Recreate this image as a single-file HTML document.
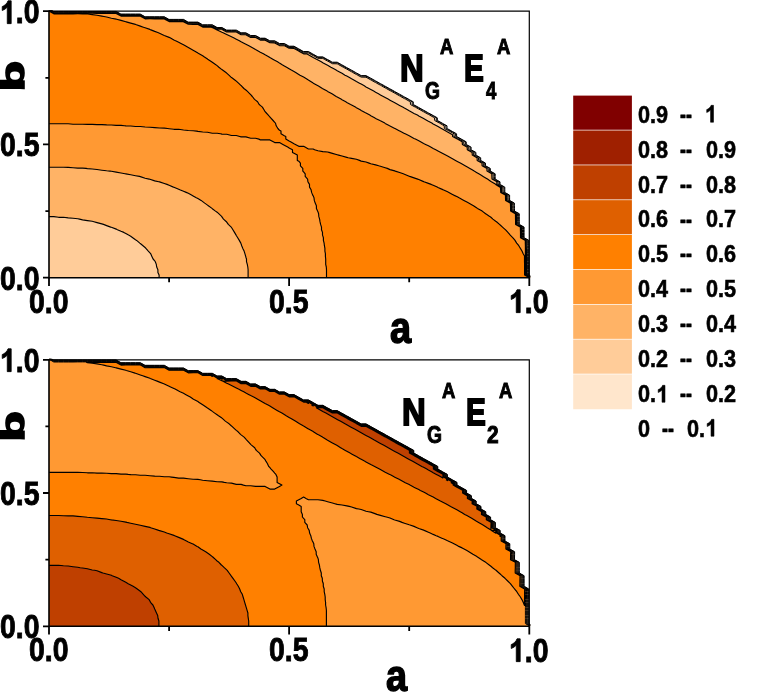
<!DOCTYPE html>
<html><head><meta charset="utf-8"><title>Contour plots</title>
<style>
html,body{margin:0;padding:0;background:#fff;}
body{width:761px;height:692px;overflow:hidden;position:relative;font-family:"Liberation Sans",sans-serif;}
#main{position:absolute;left:0;top:0;}
.t{position:absolute;font-family:"Liberation Sans",sans-serif;font-weight:bold;color:#000;white-space:pre;line-height:1;transform-origin:0 0;}
#tx{position:absolute;left:0;top:0;width:761px;height:692px;overflow:hidden;will-change:transform;}
.tk{font-size:33.2px;transform:scaleX(0.856);-webkit-text-stroke:0.9px #000;}
.a{font-size:44.95px;transform:scaleX(0.845);-webkit-text-stroke:1.5px #000;}
.N{font-size:36.8px;transform:scaleX(0.893);-webkit-text-stroke:1.8px #000;}
.E{font-size:36.8px;transform:scaleX(0.807);-webkit-text-stroke:1.8px #000;}
.sA{font-size:22.5px;transform:scaleX(0.82);-webkit-text-stroke:1.0px #000;}
.sG{font-size:23.5px;transform:scaleX(0.82);-webkit-text-stroke:1.0px #000;}
.s4{font-size:23.5px;transform:scaleX(0.79);-webkit-text-stroke:1.0px #000;}
.s2{font-size:23.5px;transform:scaleX(0.89);-webkit-text-stroke:1.0px #000;}
.lg{font-size:24.6px;transform:scaleX(0.88);-webkit-text-stroke:0.6px #000;}
.ld{font-size:25.0px;transform:scaleX(0.71);-webkit-text-stroke:0.7px #000;}

</style></head><body>
<svg id="main" width="761" height="692" viewBox="0 0 761 692">
<defs>
<clipPath id="c1"><rect x="49.0" y="10.2" width="481.3" height="267.5"/></clipPath>
<clipPath id="c2"><rect x="49.0" y="358.8" width="481.3" height="267.5"/></clipPath>
</defs>
<g clip-path="url(#c1)">
<path fill="#FFE6CC" fill-rule="evenodd" d="M49.0 277.7L53.8 277.7L58.6 277.7L63.4 277.7L68.2 277.7L73.0 277.7L77.8 277.7L82.6 277.7L87.4 277.7L92.2 277.7L97.0 277.7L101.8 277.7L106.6 277.7L111.4 277.7L116.2 277.7L121.0 277.7L125.8 277.7L130.7 277.7L135.5 277.7L140.3 277.7L145.1 277.7L149.9 277.7L154.7 277.7L159.5 277.7L164.3 277.7L169.1 277.7L173.9 277.7L178.7 277.7L183.5 277.7L188.3 277.7L193.1 277.7L197.9 277.7L202.7 277.7L207.5 277.7L212.3 277.7L217.1 277.7L221.9 277.7L226.7 277.7L231.5 277.7L236.3 277.7L241.1 277.7L245.9 277.7L250.7 277.7L255.5 277.7L260.3 277.7L265.1 277.7L269.9 277.7L274.7 277.7L279.5 277.7L284.3 277.7L289.1 277.7L294.0 277.7L298.8 277.7L303.6 277.7L308.4 277.7L313.2 277.7L318.0 277.7L322.8 277.7L327.6 277.7L332.4 277.7L337.2 277.7L342.0 277.7L346.8 277.7L351.6 277.7L356.4 277.7L361.2 277.7L366.0 277.7L370.8 277.7L375.6 277.7L380.4 277.7L385.2 277.7L390.0 277.7L394.8 277.7L399.6 277.7L404.4 277.7L409.2 277.7L414.0 277.7L418.8 277.7L423.6 277.7L428.4 277.7L433.2 277.7L438.0 277.7L442.8 277.7L447.6 277.7L452.5 277.7L457.3 277.7L462.1 277.7L466.9 277.7L471.7 277.7L476.5 277.7L481.3 277.7L486.1 277.7L490.9 277.7L495.7 277.7L500.5 277.7L505.3 277.7L510.1 277.7L514.9 277.7L519.7 277.7L524.5 277.7L529.3 277.7L533.1 277.7L529.3 275.6L528.4 275.0L528.4 272.4L528.4 269.7L528.4 267.0L528.4 264.4L528.3 261.7L528.3 259.0L528.3 256.4L528.3 253.7L528.3 251.0L528.3 248.4L528.3 245.7L528.3 243.1L528.3 240.4L524.5 238.3L523.5 237.7L523.5 235.1L523.5 232.4L523.5 229.7L523.5 227.1L519.7 225.0L518.7 224.4L518.7 221.7L518.6 219.1L518.6 216.4L518.6 213.7L514.9 211.7L513.8 211.1L513.8 208.4L513.8 205.7L513.8 203.1L510.1 201.0L509.0 200.4L509.0 197.8L508.9 195.1L505.3 193.1L504.1 192.4L504.1 189.8L504.1 187.1L500.5 185.1L499.3 184.4L499.3 181.8L495.7 179.8L494.5 179.1L494.4 176.4L494.4 173.8L490.9 171.8L489.6 171.1L489.6 168.4L486.1 166.5L484.8 165.8L484.7 163.1L481.3 161.2L479.9 160.4L479.9 157.8L476.5 155.9L475.1 155.1L475.0 152.4L471.7 150.6L470.2 149.8L470.2 147.1L466.9 145.3L465.4 144.4L465.3 141.8L462.1 140.0L460.5 139.1L457.3 137.3L455.7 136.5L455.6 133.8L452.5 132.0L450.8 131.1L447.6 129.4L446.0 128.5L445.9 125.8L442.8 124.1L441.2 123.1L438.0 121.4L436.3 120.5L436.3 117.8L433.2 116.1L431.5 115.1L428.4 113.5L426.7 112.5L423.6 110.8L421.9 109.8L418.8 108.1L417.0 107.1L414.0 105.5L412.2 104.5L412.2 101.8L409.2 100.2L407.4 99.1L404.4 97.5L402.5 96.5L399.6 94.9L397.7 93.8L394.8 92.2L392.9 91.1L390.0 89.5L388.1 88.5L385.2 86.9L383.3 85.8L380.4 84.2L378.5 83.2L375.6 81.5L373.7 80.5L370.8 78.9L368.9 77.8L366.0 76.2L361.2 76.1L359.4 75.2L356.4 73.5L354.6 72.5L351.6 70.8L349.8 69.8L346.8 68.2L345.0 67.2L342.0 65.5L340.2 64.5L337.2 62.8L332.4 62.8L330.7 61.8L327.6 60.1L325.9 59.2L322.8 57.4L318.0 57.4L316.3 56.5L313.2 54.7L311.5 53.8L308.4 52.1L303.6 52.0L302.0 51.2L298.8 49.4L297.2 48.5L294.0 46.7L289.1 46.7L287.6 45.8L284.3 44.0L279.5 44.0L278.1 43.2L274.7 41.3L269.9 41.3L268.5 40.5L265.1 38.6L260.3 38.6L259.0 37.8L255.5 35.9L250.7 35.9L249.4 35.2L245.9 33.3L241.1 33.2L239.8 32.5L236.3 30.6L231.5 30.6L226.7 30.5L225.5 29.9L221.9 27.9L217.1 27.9L215.9 27.2L212.3 25.2L207.5 25.2L202.7 25.2L201.5 24.5L197.9 22.5L193.1 22.5L188.3 22.5L187.2 21.9L183.5 19.8L178.7 19.8L173.9 19.8L169.1 19.8L168.0 19.2L164.3 17.1L159.5 17.1L154.7 17.1L149.9 17.1L145.1 17.1L144.0 16.5L140.3 14.4L135.5 14.4L130.7 14.4L125.8 14.4L121.0 14.4L120.0 13.9L116.2 11.8L111.4 11.7L106.6 11.7L101.8 11.7L97.0 11.7L92.2 11.7L87.4 11.7L82.6 11.7L77.8 11.7L73.0 11.7L68.2 11.7L63.4 11.7L58.6 11.7L53.8 11.7L52.8 11.2L49.0 9.1L49.0 11.2L49.0 13.9L49.0 16.5L49.0 19.2L49.0 21.9L49.0 24.5L49.0 27.2L49.0 29.9L49.0 32.5L49.0 35.2L49.0 37.8L49.0 40.5L49.0 43.2L49.0 45.8L49.0 48.5L49.0 51.2L49.0 53.8L49.0 56.5L49.0 59.2L49.0 61.8L49.0 64.5L49.0 67.2L49.0 69.8L49.0 72.5L49.0 75.2L49.0 77.8L49.0 80.5L49.0 83.2L49.0 85.8L49.0 88.5L49.0 91.1L49.0 93.8L49.0 96.5L49.0 99.1L49.0 101.8L49.0 104.5L49.0 107.1L49.0 109.8L49.0 112.5L49.0 115.1L49.0 117.8L49.0 120.5L49.0 123.1L49.0 125.8L49.0 128.5L49.0 131.1L49.0 133.8L49.0 136.5L49.0 139.1L49.0 141.8L49.0 144.4L49.0 147.1L49.0 149.8L49.0 152.4L49.0 155.1L49.0 157.8L49.0 160.4L49.0 163.1L49.0 165.8L49.0 168.4L49.0 171.1L49.0 173.8L49.0 176.4L49.0 179.1L49.0 181.8L49.0 184.4L49.0 187.1L49.0 189.8L49.0 192.4L49.0 195.1L49.0 197.8L49.0 200.4L49.0 203.1L49.0 205.7L49.0 208.4L49.0 211.1L49.0 213.7L49.0 216.4L49.0 219.1L49.0 221.7L49.0 224.4L49.0 227.1L49.0 229.7L49.0 232.4L49.0 235.1L49.0 237.7L49.0 240.4L49.0 243.1L49.0 245.7L49.0 248.4L49.0 251.0L49.0 253.7L49.0 256.4L49.0 259.0L49.0 261.7L49.0 264.4L49.0 267.0L49.0 269.7L49.0 272.4L49.0 275.0L49.0 277.7Z"/>
<path fill="#FFCC99" fill-rule="evenodd" d="M49.0 277.7L53.8 277.7L58.6 277.7L63.4 277.7L68.2 277.7L73.0 277.7L77.8 277.7L82.6 277.7L87.4 277.7L92.2 277.7L97.0 277.7L101.8 277.7L106.6 277.7L111.4 277.7L116.2 277.7L121.0 277.7L125.8 277.7L130.7 277.7L135.5 277.7L140.3 277.7L145.1 277.7L149.9 277.7L154.7 277.7L159.5 277.7L164.3 277.7L169.1 277.7L173.9 277.7L178.7 277.7L183.5 277.7L188.3 277.7L193.1 277.7L197.9 277.7L202.7 277.7L207.5 277.7L212.3 277.7L217.1 277.7L221.9 277.7L226.7 277.7L231.5 277.7L236.3 277.7L241.1 277.7L245.9 277.7L250.7 277.7L255.5 277.7L260.3 277.7L265.1 277.7L269.9 277.7L274.7 277.7L279.5 277.7L284.3 277.7L289.1 277.7L294.0 277.7L298.8 277.7L303.6 277.7L308.4 277.7L313.2 277.7L318.0 277.7L322.8 277.7L327.6 277.7L332.4 277.7L337.2 277.7L342.0 277.7L346.8 277.7L351.6 277.7L356.4 277.7L361.2 277.7L366.0 277.7L370.8 277.7L375.6 277.7L380.4 277.7L385.2 277.7L390.0 277.7L394.8 277.7L399.6 277.7L404.4 277.7L409.2 277.7L414.0 277.7L418.8 277.7L423.6 277.7L428.4 277.7L433.2 277.7L438.0 277.7L442.8 277.7L447.6 277.7L452.5 277.7L457.3 277.7L462.1 277.7L466.9 277.7L471.7 277.7L476.5 277.7L481.3 277.7L486.1 277.7L490.9 277.7L495.7 277.7L500.5 277.7L505.3 277.7L510.1 277.7L514.9 277.7L519.7 277.7L524.5 277.7L529.3 277.7L532.2 277.7L529.3 276.1L527.4 275.0L527.4 272.4L527.4 269.7L527.4 267.0L527.4 264.4L527.4 261.7L527.4 259.0L527.4 256.4L527.4 253.7L527.4 251.1L527.3 248.4L527.3 245.7L527.3 243.1L527.3 240.4L524.5 238.8L522.5 237.7L522.5 235.1L522.5 232.4L522.5 229.7L522.4 227.1L519.7 225.5L517.7 224.4L517.6 221.7L517.6 219.1L517.6 216.4L517.5 213.7L514.9 212.3L512.8 211.1L512.7 208.4L512.7 205.7L512.6 203.1L510.1 201.7L507.9 200.4L507.8 197.8L507.8 195.1L505.3 193.7L503.0 192.4L502.9 189.8L502.9 187.1L500.5 185.8L498.1 184.4L498.0 181.8L495.7 180.5L493.2 179.1L493.2 176.4L493.1 173.8L490.9 172.5L488.3 171.1L488.2 168.4L486.1 167.2L483.4 165.8L483.3 163.1L481.3 162.0L478.6 160.4L478.5 157.8L476.5 156.7L473.7 155.1L473.6 152.4L471.7 151.4L468.8 149.8L468.7 147.1L466.9 146.1L463.9 144.4L463.7 141.8L462.1 140.9L458.9 139.1L457.3 138.2L454.1 136.5L454.0 133.8L452.5 132.9L449.2 131.1L447.6 130.3L444.4 128.5L444.2 125.8L442.8 125.0L439.5 123.1L438.0 122.3L434.7 120.5L434.5 117.8L433.2 117.1L429.7 115.1L428.4 114.4L424.9 112.5L423.6 111.8L420.1 109.8L418.8 109.1L415.3 107.1L414.0 106.5L410.5 104.5L410.3 101.8L409.2 101.2L405.5 99.1L404.4 98.6L400.7 96.5L399.6 95.9L395.9 93.8L394.8 93.2L391.1 91.1L390.0 90.6L386.3 88.5L385.2 87.9L381.5 85.8L380.4 85.2L376.7 83.2L375.6 82.6L371.9 80.5L370.8 79.9L367.1 77.8L366.0 77.2L361.2 77.1L357.6 75.2L356.4 74.5L352.8 72.5L351.6 71.8L348.0 69.8L346.8 69.1L343.2 67.2L342.0 66.5L338.4 64.5L337.2 63.8L332.4 63.7L329.0 61.8L327.6 61.1L324.2 59.2L322.8 58.4L318.0 58.3L314.7 56.5L313.2 55.6L309.9 53.8L308.4 53.0L303.6 52.9L300.4 51.2L298.8 50.2L295.6 48.5L294.0 47.6L289.1 47.5L286.1 45.8L284.3 44.8L279.5 44.8L276.6 43.2L274.7 42.1L269.9 42.1L267.1 40.5L265.1 39.4L260.3 39.4L257.6 37.8L255.5 36.7L250.7 36.7L248.1 35.2L245.9 34.0L241.1 33.9L238.5 32.5L236.3 31.3L231.5 31.2L226.7 31.2L224.2 29.9L221.9 28.6L217.1 28.5L214.7 27.2L212.3 25.9L207.5 25.8L202.7 25.8L200.4 24.5L197.9 23.1L193.1 23.1L188.3 23.1L186.0 21.9L183.5 20.4L178.7 20.4L173.9 20.4L169.1 20.4L166.9 19.2L164.3 17.7L159.5 17.7L154.7 17.7L149.9 17.7L145.1 17.7L143.0 16.5L140.3 15.0L135.5 15.0L130.7 15.0L125.8 15.0L121.0 15.0L119.0 13.9L116.2 12.3L111.4 12.3L106.6 12.3L101.8 12.3L97.0 12.3L92.2 12.3L87.4 12.3L82.6 12.3L77.8 12.3L73.0 12.3L68.2 12.3L63.4 12.2L58.6 12.2L53.8 12.2L51.9 11.2L49.0 9.6L49.0 11.2L49.0 13.9L49.0 16.5L49.0 19.2L49.0 21.9L49.0 24.5L49.0 27.2L49.0 29.9L49.0 32.5L49.0 35.2L49.0 37.8L49.0 40.5L49.0 43.2L49.0 45.8L49.0 48.5L49.0 51.2L49.0 53.8L49.0 56.5L49.0 59.2L49.0 61.8L49.0 64.5L49.0 67.2L49.0 69.8L49.0 72.5L49.0 75.2L49.0 77.8L49.0 80.5L49.0 83.2L49.0 85.8L49.0 88.5L49.0 91.1L49.0 93.8L49.0 96.5L49.0 99.1L49.0 101.8L49.0 104.5L49.0 107.1L49.0 109.8L49.0 112.5L49.0 115.1L49.0 117.8L49.0 120.5L49.0 123.1L49.0 125.8L49.0 128.5L49.0 131.1L49.0 133.8L49.0 136.5L49.0 139.1L49.0 141.8L49.0 144.4L49.0 147.1L49.0 149.8L49.0 152.4L49.0 155.1L49.0 157.8L49.0 160.4L49.0 163.1L49.0 165.8L49.0 168.4L49.0 171.1L49.0 173.8L49.0 176.4L49.0 179.1L49.0 181.8L49.0 184.4L49.0 187.1L49.0 189.8L49.0 192.4L49.0 195.1L49.0 197.8L49.0 200.4L49.0 203.1L49.0 205.7L49.0 208.4L49.0 211.1L49.0 213.7L49.0 216.4L49.0 219.1L49.0 221.7L49.0 224.4L49.0 227.1L49.0 229.7L49.0 232.4L49.0 235.1L49.0 237.7L49.0 240.4L49.0 243.1L49.0 245.7L49.0 248.4L49.0 251.0L49.0 253.7L49.0 256.4L49.0 259.0L49.0 261.7L49.0 264.4L49.0 267.0L49.0 269.7L49.0 272.4L49.0 275.0L49.0 277.7Z"/>
<path fill="#FFB366" fill-rule="evenodd" d="M159.1 277.7L159.5 277.7L164.3 277.7L169.1 277.7L173.9 277.7L178.7 277.7L183.5 277.7L188.3 277.7L193.1 277.7L197.9 277.7L202.7 277.7L207.5 277.7L212.3 277.7L217.1 277.7L221.9 277.7L226.7 277.7L231.5 277.7L236.3 277.7L241.1 277.7L245.9 277.7L250.7 277.7L255.5 277.7L260.3 277.7L265.1 277.7L269.9 277.7L274.7 277.7L279.5 277.7L284.3 277.7L289.1 277.7L294.0 277.7L298.8 277.7L303.6 277.7L308.4 277.7L313.2 277.7L318.0 277.7L322.8 277.7L327.6 277.7L332.4 277.7L337.2 277.7L342.0 277.7L346.8 277.7L351.6 277.7L356.4 277.7L361.2 277.7L366.0 277.7L370.8 277.7L375.6 277.7L380.4 277.7L385.2 277.7L390.0 277.7L394.8 277.7L399.6 277.7L404.4 277.7L409.2 277.7L414.0 277.7L418.8 277.7L423.6 277.7L428.4 277.7L433.2 277.7L438.0 277.7L442.8 277.7L447.6 277.7L452.5 277.7L457.3 277.7L462.1 277.7L466.9 277.7L471.7 277.7L476.5 277.7L481.3 277.7L486.1 277.7L490.9 277.7L495.7 277.7L500.5 277.7L505.3 277.7L510.1 277.7L514.9 277.7L519.7 277.7L524.5 277.7L529.3 277.7L531.2 277.7L529.3 276.6L526.5 275.0L526.5 272.4L526.5 269.7L526.5 267.0L526.5 264.4L526.4 261.7L526.4 259.0L526.4 256.4L526.4 253.7L526.4 251.0L526.4 248.4L526.3 245.7L526.3 243.1L526.3 240.4L524.5 239.4L521.5 237.7L521.5 235.1L521.5 232.4L521.4 229.7L521.4 227.1L519.7 226.1L516.6 224.4L516.6 221.7L516.6 219.1L516.5 216.4L516.5 213.7L514.9 212.9L511.7 211.1L511.6 208.4L511.6 205.7L511.5 203.1L510.1 202.3L506.7 200.4L506.7 197.8L506.6 195.1L505.3 194.3L501.8 192.4L501.7 189.8L501.7 187.1L500.5 186.4L496.9 184.4L496.8 181.8L495.7 181.1L492.0 179.1L491.9 176.4L491.8 173.8L490.9 173.2L487.0 171.1L486.9 168.4L486.1 168.0L482.1 165.8L482.0 163.1L481.3 162.7L477.2 160.4L477.1 157.8L476.5 157.4L472.3 155.1L472.1 152.4L471.7 152.2L467.3 149.8L467.2 147.1L466.9 147.0L462.4 144.4L462.2 141.8L462.1 141.7L457.4 139.1L457.3 139.0L452.6 136.5L452.5 134.8L450.7 133.8L447.6 132.1L445.9 131.1L442.8 129.3L441.4 128.5L438.0 126.6L436.6 125.8L433.2 124.0L431.8 123.1L428.4 121.3L427.0 120.5L423.6 118.6L422.2 117.8L418.8 116.0L417.4 115.1L414.0 113.4L412.3 112.5L409.2 110.8L407.5 109.8L404.4 108.1L402.7 107.1L399.6 105.4L397.9 104.5L394.8 102.8L392.9 101.8L390.0 100.2L388.1 99.1L385.2 97.5L383.3 96.5L380.4 94.9L378.5 93.8L375.6 92.2L373.7 91.1L370.8 89.5L368.9 88.5L366.0 86.9L364.3 85.8L361.2 84.1L359.5 83.2L356.4 81.5L354.7 80.5L351.6 78.8L349.9 77.8L346.8 76.1L345.0 75.2L342.0 73.3L340.5 72.5L337.2 70.7L335.7 69.8L332.4 68.0L330.9 67.2L327.6 65.3L326.1 64.5L322.8 62.7L321.3 61.8L318.0 60.0L316.5 59.2L313.2 57.5L311.4 56.5L308.4 54.8L306.6 53.8L303.6 53.8L298.9 51.2L298.8 51.1L294.1 48.5L294.0 48.4L289.1 48.3L284.6 45.8L284.3 45.7L279.5 45.6L275.2 43.2L274.7 42.9L269.9 42.8L265.7 40.5L265.1 40.2L260.3 40.1L256.2 37.8L255.5 37.5L250.7 37.4L246.7 35.2L245.9 34.7L241.1 34.7L237.2 32.5L236.3 32.0L231.5 31.9L226.7 31.9L223.0 29.9L221.9 29.2L217.1 29.2L213.5 27.2L212.3 26.5L207.5 26.5L202.7 26.4L199.2 24.5L197.9 23.8L193.1 23.8L188.3 23.7L184.9 21.9L183.5 21.1L178.7 21.0L173.9 21.0L169.1 21.0L165.8 19.2L164.3 18.3L159.5 18.3L154.7 18.3L149.9 18.2L145.1 18.2L142.0 16.5L140.3 15.6L135.5 15.6L130.7 15.5L125.8 15.5L121.0 15.5L118.1 13.9L116.2 12.9L111.4 12.8L106.6 12.8L101.8 12.8L97.0 12.8L92.2 12.8L87.4 12.8L82.6 12.8L77.8 12.8L73.0 12.8L68.2 12.8L63.4 12.8L58.6 12.8L53.8 12.8L50.9 11.2L49.0 10.1L49.0 11.2L49.0 13.9L49.0 16.5L49.0 19.2L49.0 21.9L49.0 24.5L49.0 27.2L49.0 29.9L49.0 32.5L49.0 35.2L49.0 37.8L49.0 40.5L49.0 43.2L49.0 45.8L49.0 48.5L49.0 51.2L49.0 53.8L49.0 56.5L49.0 59.2L49.0 61.8L49.0 64.5L49.0 67.2L49.0 69.8L49.0 72.5L49.0 75.2L49.0 77.8L49.0 80.5L49.0 83.2L49.0 85.8L49.0 88.5L49.0 91.1L49.0 93.8L49.0 96.5L49.0 99.1L49.0 101.8L49.0 104.5L49.0 107.1L49.0 109.8L49.0 112.5L49.0 115.1L49.0 117.8L49.0 120.5L49.0 123.1L49.0 125.8L49.0 128.5L49.0 131.1L49.0 133.8L49.0 136.5L49.0 139.1L49.0 141.8L49.0 144.4L49.0 147.1L49.0 149.8L49.0 152.4L49.0 155.1L49.0 157.8L49.0 160.4L49.0 163.1L49.0 165.8L49.0 168.4L49.0 171.1L49.0 173.8L49.0 176.4L49.0 179.1L49.0 181.8L49.0 184.4L49.0 187.1L49.0 189.8L49.0 192.4L49.0 195.1L49.0 197.8L49.0 200.4L49.0 203.1L49.0 205.7L49.0 208.4L49.0 211.1L49.0 213.7L49.0 216.4L49.0 216.6L53.8 216.6L58.6 217.3L63.4 217.3L68.2 217.9L73.0 218.2L77.8 218.7L79.5 219.1L82.6 219.9L87.4 220.6L92.2 221.3L93.9 221.7L97.0 222.6L101.8 223.9L103.5 224.4L106.6 225.6L110.7 227.1L111.4 227.3L116.2 229.1L117.4 229.7L121.0 231.3L123.8 232.4L125.8 233.5L128.6 235.1L130.7 236.2L132.7 237.7L135.5 239.8L136.6 240.4L139.8 243.1L140.3 243.5L143.0 245.7L145.1 247.5L145.9 248.4L148.3 251.1L149.9 252.8L150.7 253.7L151.9 256.4L153.1 259.0L154.7 260.8L155.3 261.7L156.3 264.4L156.7 267.0L157.9 269.7L157.9 272.4L159.1 275.0L159.1 277.7Z"/>
<path fill="#FF9933" fill-rule="evenodd" d="M248.1 277.7L250.7 277.7L255.5 277.7L260.3 277.7L265.1 277.7L269.9 277.7L274.7 277.7L279.5 277.7L284.3 277.7L289.1 277.7L294.0 277.7L298.8 277.7L303.6 277.7L308.4 277.7L313.2 277.7L318.0 277.7L322.8 277.7L327.6 277.7L332.4 277.7L337.2 277.7L342.0 277.7L346.8 277.7L351.6 277.7L356.4 277.7L361.2 277.7L366.0 277.7L370.8 277.7L375.6 277.7L380.4 277.7L385.2 277.7L390.0 277.7L394.8 277.7L399.6 277.7L404.4 277.7L409.2 277.7L414.0 277.7L418.8 277.7L423.6 277.7L428.4 277.7L433.2 277.7L438.0 277.7L442.8 277.7L447.6 277.7L452.5 277.7L457.3 277.7L462.1 277.7L466.9 277.7L471.7 277.7L476.5 277.7L481.3 277.7L486.1 277.7L490.9 277.7L495.7 277.7L500.5 277.7L505.3 277.7L510.1 277.7L514.9 277.7L519.7 277.7L524.5 277.7L529.3 277.7L530.3 277.7L529.3 277.2L525.5 275.0L525.5 272.4L525.5 269.7L525.5 267.0L525.5 264.4L525.5 261.7L525.5 259.0L525.5 256.4L525.4 253.7L525.4 251.0L525.4 248.4L525.4 245.7L525.3 243.1L525.3 240.4L524.5 239.9L520.5 237.7L520.5 235.1L520.5 232.4L520.4 229.7L520.4 227.1L519.7 226.7L515.6 224.4L515.6 221.7L515.5 219.1L515.5 216.4L515.4 213.7L514.9 213.5L510.6 211.1L510.6 208.4L510.5 205.7L510.4 203.1L510.1 202.9L505.6 200.4L505.5 197.8L505.5 195.1L505.3 195.0L500.7 192.4L500.6 189.8L500.5 187.6L499.7 187.1L495.7 184.4L495.7 184.3L491.4 181.8L490.9 181.4L487.5 179.1L486.1 178.2L483.1 176.4L481.3 175.3L478.8 173.8L476.5 172.4L474.2 171.1L471.7 169.5L469.9 168.4L466.9 166.8L465.1 165.8L462.1 164.1L460.3 163.1L457.3 161.4L455.5 160.4L452.5 158.8L450.7 157.8L447.6 156.1L445.7 155.1L442.8 153.5L440.9 152.4L438.0 150.9L435.8 149.8L433.2 148.5L430.7 147.1L428.4 145.8L425.6 144.4L423.6 143.5L420.6 141.8L418.8 140.8L415.4 139.1L414.0 138.4L410.5 136.5L409.2 135.8L405.2 133.8L404.4 133.4L399.8 131.1L399.6 131.0L395.0 128.5L394.8 128.4L390.0 126.0L389.6 125.8L385.2 123.4L384.8 123.1L380.4 120.7L379.9 120.5L375.6 118.4L374.6 117.8L370.8 115.7L369.8 115.1L366.0 113.0L365.0 112.5L361.2 110.4L360.2 109.8L356.4 107.7L355.4 107.1L351.6 105.0L350.6 104.5L346.8 102.4L345.8 101.8L342.0 99.7L341.0 99.1L337.2 97.0L336.2 96.5L332.4 94.1L332.0 93.8L327.6 91.4L327.2 91.1L322.8 88.7L322.4 88.5L318.1 85.8L318.0 85.7L313.3 83.2L313.2 83.1L309.1 80.5L308.4 80.1L304.8 77.8L303.6 77.1L300.0 75.2L298.8 74.4L295.7 72.5L294.0 71.5L290.9 69.8L289.1 68.7L286.6 67.2L284.3 65.9L281.8 64.5L279.5 63.1L277.6 61.8L274.7 60.3L272.8 59.2L269.9 57.6L268.2 56.5L265.1 54.8L263.4 53.8L260.3 52.2L258.6 51.2L255.5 49.5L253.8 48.5L250.7 46.8L248.9 45.8L245.9 44.2L243.9 43.2L241.1 41.8L238.9 40.5L236.3 39.2L233.6 37.8L231.5 36.8L228.3 35.2L226.7 34.4L222.6 32.5L221.9 32.2L217.2 29.9L217.1 29.9L212.3 27.6L211.4 27.2L207.5 27.1L202.7 27.1L198.1 24.5L197.9 24.4L193.1 24.4L188.3 24.3L183.8 21.9L183.5 21.7L178.7 21.6L173.9 21.6L169.1 21.6L164.8 19.2L164.3 18.9L159.5 18.9L154.7 18.9L149.9 18.8L145.1 18.8L140.9 16.5L140.3 16.1L135.5 16.1L130.7 16.1L125.8 16.1L121.0 16.1L117.1 13.9L116.2 13.4L111.4 13.4L106.6 13.4L101.8 13.4L97.0 13.4L92.2 13.3L87.4 13.3L82.6 13.3L77.8 13.3L73.0 13.3L68.2 13.3L63.4 13.3L58.6 13.3L53.8 13.3L50.0 11.2L49.0 10.7L49.0 11.2L49.0 13.9L49.0 16.5L49.0 19.2L49.0 21.9L49.0 24.5L49.0 27.2L49.0 29.9L49.0 32.5L49.0 35.2L49.0 37.8L49.0 40.5L49.0 43.2L49.0 45.8L49.0 48.5L49.0 51.2L49.0 53.8L49.0 56.5L49.0 59.2L49.0 61.8L49.0 64.5L49.0 67.2L49.0 69.8L49.0 72.5L49.0 75.2L49.0 77.8L49.0 80.5L49.0 83.2L49.0 85.8L49.0 88.5L49.0 91.1L49.0 93.8L49.0 96.5L49.0 99.1L49.0 101.8L49.0 104.5L49.0 107.1L49.0 109.8L49.0 112.5L49.0 115.1L49.0 117.8L49.0 120.5L49.0 123.1L49.0 125.8L49.0 128.5L49.0 131.1L49.0 133.8L49.0 136.5L49.0 139.1L49.0 141.8L49.0 144.4L49.0 147.1L49.0 149.8L49.0 152.4L49.0 155.1L49.0 157.8L49.0 160.4L49.0 163.1L49.0 165.8L49.0 167.2L53.8 167.2L58.6 167.2L63.4 167.2L68.2 167.4L73.0 167.7L77.8 168.1L82.6 168.1L86.0 168.4L87.4 168.6L92.2 169.0L97.0 169.5L101.8 170.2L106.6 170.8L110.0 171.1L111.4 171.3L116.2 172.1L121.0 173.0L125.1 173.8L125.8 173.9L130.7 174.8L135.5 175.7L139.5 176.4L140.3 176.6L145.1 178.2L149.1 179.1L149.9 179.3L154.7 180.9L158.7 181.8L159.5 181.9L164.3 183.5L167.0 184.4L169.1 185.3L173.4 187.1L173.9 187.2L178.7 189.3L179.8 189.8L183.5 191.3L186.2 192.4L188.3 193.3L191.5 195.1L193.1 196.0L196.3 197.8L197.9 198.6L201.1 200.4L202.7 201.6L204.7 203.1L207.5 205.1L208.3 205.7L212.0 208.4L212.3 208.7L215.5 211.1L217.1 212.2L218.7 213.7L221.6 216.4L221.9 216.8L223.5 219.1L226.4 221.7L226.7 222.1L228.3 224.4L231.2 227.1L231.5 227.5L232.9 229.7L234.5 232.4L236.1 235.1L236.3 235.5L237.7 237.7L239.3 240.4L240.8 243.1L241.1 243.9L241.7 245.7L242.8 248.4L244.1 251.1L244.9 253.7L245.7 256.4L245.9 257.2L246.5 259.0L246.5 261.7L247.3 264.4L247.8 267.0L248.1 269.7L248.1 272.4L248.1 275.0L248.1 277.7Z"/>
<path fill="#FF8000" fill-rule="evenodd" d="M326.5 277.7L327.6 277.7L332.4 277.7L337.2 277.7L342.0 277.7L346.8 277.7L351.6 277.7L356.4 277.7L361.2 277.7L366.0 277.7L370.8 277.7L375.6 277.7L380.4 277.7L385.2 277.7L390.0 277.7L394.8 277.7L399.6 277.7L404.4 277.7L409.2 277.7L414.0 277.7L418.8 277.7L423.6 277.7L428.4 277.7L433.2 277.7L438.0 277.7L442.8 277.7L447.6 277.7L452.5 277.7L457.3 277.7L462.1 277.7L466.9 277.7L471.7 277.7L476.5 277.7L481.3 277.7L486.1 277.7L490.9 277.7L495.7 277.7L500.5 277.7L505.3 277.7L510.1 277.7L514.9 277.7L519.7 277.7L524.5 277.7L529.3 277.7L529.3 277.7L529.3 277.7L524.6 275.0L524.6 272.4L524.6 269.7L524.6 267.0L524.6 264.4L524.5 261.7L524.5 259.0L524.5 256.4L524.5 256.1L523.2 253.7L522.0 251.0L520.4 248.4L519.7 247.2L518.8 245.7L516.7 243.1L515.0 240.4L514.9 240.2L512.7 237.7L510.2 235.1L510.1 234.9L507.9 232.4L505.4 229.7L505.3 229.6L502.5 227.1L500.5 225.3L499.5 224.4L496.5 221.7L495.7 221.2L492.9 219.1L490.9 217.3L489.7 216.4L486.1 214.1L485.6 213.7L482.2 211.1L481.3 210.5L477.5 208.4L476.5 207.7L473.5 205.7L471.7 204.7L468.7 203.1L466.9 202.1L463.9 200.4L462.1 199.4L459.1 197.8L457.3 196.7L453.7 195.1L452.5 194.4L448.9 192.4L447.6 191.8L443.1 189.8L442.8 189.6L438.0 187.5L437.2 187.1L433.2 185.3L431.2 184.4L428.4 183.4L424.0 181.8L423.6 181.6L418.8 179.5L417.7 179.1L414.0 177.9L409.7 176.4L409.2 176.2L404.4 174.2L403.3 173.8L399.6 172.5L395.3 171.1L394.8 170.9L390.0 169.6L387.3 168.4L385.2 167.7L380.4 166.2L378.7 165.8L375.6 164.9L370.8 163.7L369.1 163.1L366.0 162.0L361.2 161.1L359.5 160.4L356.4 159.3L351.6 158.4L348.2 157.8L346.8 157.4L342.0 156.0L338.6 155.1L337.2 154.7L332.4 153.4L329.0 152.4L327.6 152.0L322.8 151.6L318.0 150.7L314.6 149.8L313.2 149.0L308.4 149.0L305.0 147.1L303.6 146.3L298.8 146.3L295.4 144.4L294.0 143.7L290.6 141.8L289.1 141.0L285.8 139.1L285.8 136.5L284.3 135.7L281.0 133.8L281.0 131.1L279.5 130.3L277.9 128.5L276.2 125.8L275.5 123.1L274.7 122.3L273.1 120.5L270.7 117.8L269.9 117.0L268.3 115.1L265.9 112.5L265.1 111.7L264.0 109.8L262.4 107.1L260.3 105.4L259.2 104.5L257.6 101.8L255.5 100.1L254.4 99.1L252.3 96.5L250.7 94.7L249.9 93.8L247.2 91.1L245.9 90.0L243.9 88.5L241.4 85.8L241.1 85.6L238.5 83.2L236.3 81.1L235.5 80.5L231.9 77.8L231.5 77.6L228.9 75.2L226.7 73.1L226.0 72.5L222.2 69.8L221.9 69.6L218.9 67.2L217.1 65.6L215.5 64.5L212.3 62.3L211.6 61.8L207.7 59.2L207.5 59.0L203.7 56.5L202.7 55.8L199.1 53.8L197.9 53.1L194.9 51.2L193.1 50.2L190.1 48.5L188.3 47.5L185.3 45.8L183.5 44.8L180.5 43.2L178.7 42.2L175.1 40.5L173.9 39.9L170.1 37.8L169.1 37.4L164.3 35.5L163.7 35.2L159.5 33.2L157.8 32.5L154.7 31.4L150.9 29.9L149.9 29.4L145.1 27.8L143.4 27.2L140.3 26.1L135.7 24.5L135.5 24.4L130.7 23.1L126.2 21.9L125.8 21.8L121.0 20.4L116.6 19.2L116.2 19.1L111.4 18.2L106.6 17.0L103.9 16.5L101.8 16.1L97.0 15.3L92.2 14.6L87.9 13.9L87.4 13.9L82.6 13.9L77.8 13.8L73.0 13.8L68.2 13.8L63.4 13.8L58.6 13.8L53.8 13.8L49.0 11.2L49.0 11.2L49.0 11.2L49.0 13.9L49.0 16.5L49.0 19.2L49.0 21.9L49.0 24.5L49.0 27.2L49.0 29.9L49.0 32.5L49.0 35.2L49.0 37.8L49.0 40.5L49.0 43.2L49.0 45.8L49.0 48.5L49.0 51.2L49.0 53.8L49.0 56.5L49.0 59.2L49.0 61.8L49.0 64.5L49.0 67.2L49.0 69.8L49.0 72.5L49.0 75.2L49.0 77.8L49.0 80.5L49.0 83.2L49.0 85.8L49.0 88.5L49.0 91.1L49.0 93.8L49.0 96.5L49.0 99.1L49.0 101.8L49.0 104.5L49.0 107.1L49.0 109.8L49.0 112.5L49.0 115.1L49.0 117.8L49.0 120.5L49.0 123.1L49.0 123.7L53.8 123.7L58.6 123.7L63.4 123.7L68.2 123.8L73.0 124.2L77.8 124.2L82.6 124.2L87.4 124.4L92.2 124.4L97.0 124.6L101.8 124.6L106.6 124.9L111.4 125.0L116.2 125.4L121.0 125.4L124.4 125.8L125.8 125.9L130.7 126.0L135.5 126.5L140.3 126.5L145.1 127.0L149.9 127.3L154.7 127.6L159.5 128.0L164.3 128.1L167.6 128.5L169.1 128.7L173.9 129.3L178.7 129.3L183.5 130.0L188.3 130.5L193.1 130.7L196.5 131.1L197.9 131.4L202.7 132.0L207.5 132.3L212.3 133.2L217.1 133.2L220.5 133.8L221.9 134.1L226.7 134.2L231.5 135.5L236.3 135.5L239.7 136.5L241.1 136.9L245.9 136.9L250.7 138.2L255.5 138.2L258.9 139.1L260.3 139.9L265.1 139.9L269.9 139.9L273.3 141.8L274.7 142.6L279.5 142.6L282.9 144.4L284.3 145.2L287.7 147.1L289.1 147.9L292.5 149.8L292.5 152.4L294.0 153.2L297.3 155.1L297.3 157.8L297.3 160.4L298.8 161.2L300.4 163.1L300.4 165.8L302.8 168.4L302.8 171.1L303.6 171.9L305.2 173.8L305.2 176.4L307.6 179.1L307.9 181.8L308.4 182.6L309.5 184.4L309.5 187.1L311.1 189.8L311.6 192.4L312.7 195.1L313.2 195.9L314.0 197.8L314.3 200.4L315.2 203.1L316.4 205.7L316.4 208.4L317.6 211.1L318.0 211.9L318.6 213.7L318.8 216.4L319.6 219.1L320.0 221.7L320.6 224.4L321.5 227.1L321.5 229.7L322.5 232.4L322.5 235.1L322.8 235.9L323.4 237.7L323.4 240.4L324.1 243.1L324.4 245.7L324.9 248.4L324.9 251.1L325.4 253.7L325.4 256.4L325.7 259.0L325.7 261.7L325.7 264.4L326.3 267.0L326.5 269.7L326.5 272.4L326.5 275.0L326.5 277.7Z"/>
<path fill="none" stroke="#000" stroke-width="1.0" stroke-linejoin="round" d="M533.7 277.7L529.3 275.2L528.9 275.0L528.9 272.4L528.9 269.7L528.9 267.0L528.9 264.4L528.9 261.7L528.9 259.0L528.9 256.4L528.9 253.7L528.9 251.0L528.9 248.4L528.9 245.7L528.9 243.1L528.9 240.4L524.5 237.9L524.1 237.7L524.1 235.1L524.1 232.4L524.1 229.7L524.1 227.1L519.7 224.6L519.3 224.4L519.3 221.7L519.3 219.1L519.3 216.4L519.3 213.7L514.9 211.3L514.5 211.1L514.5 208.4L514.4 205.7L514.4 203.1L510.1 200.7L509.6 200.4L509.6 197.8L509.6 195.1L505.3 192.7L504.8 192.4L504.8 189.8L504.8 187.1L500.5 184.7L500.0 184.4L500.0 181.8L495.7 179.4L495.2 179.1L495.2 176.4L495.2 173.8L490.9 171.4L490.4 171.1L490.3 168.4L486.1 166.1L485.5 165.8L485.5 163.1L481.3 160.7L480.7 160.4L480.7 157.8L476.5 155.4L475.9 155.1L475.9 152.4L471.7 150.1L471.1 149.8L471.1 147.1L466.9 144.8L466.3 144.4L466.2 141.8L462.1 139.5L461.4 139.1L457.3 136.8L456.6 136.5L456.6 133.8L452.5 131.5L451.8 131.1L447.6 128.8L447.0 128.5L447.0 125.8L442.8 123.5L442.2 123.1L438.0 120.8L437.4 120.5L437.3 117.8L433.2 115.5L432.5 115.1L428.4 112.9L427.7 112.5L423.6 110.2L422.9 109.8L418.8 107.5L418.1 107.1L414.0 104.9L413.3 104.5L413.3 101.8L409.2 99.6L408.5 99.1L404.4 96.9L403.7 96.5L399.6 94.2L398.9 93.8L394.8 91.6L394.1 91.1L390.0 88.9L389.3 88.5L385.2 86.2L384.5 85.8L380.4 83.6L379.7 83.2L375.6 80.9L374.9 80.5L370.8 78.2L370.1 77.8L366.0 75.6L361.2 75.6L360.5 75.2L356.4 72.9L355.7 72.5L351.6 70.2L350.9 69.8L346.8 67.6L346.1 67.2L342.0 64.9L341.3 64.5L337.2 62.2L332.4 62.2L331.7 61.8L327.6 59.5L326.9 59.2L322.8 56.9L318.0 56.9L317.3 56.5L313.2 54.2L312.5 53.8L308.4 51.5L303.6 51.5L302.9 51.2L298.8 48.9L298.1 48.5L294.0 46.2L289.1 46.2L288.5 45.8L284.3 43.5L279.5 43.5L279.0 43.2L274.7 40.8L269.9 40.8L269.4 40.5L265.1 38.2L260.3 38.2L259.8 37.8L255.5 35.5L250.7 35.5L250.2 35.2L245.9 32.8L241.1 32.8L240.6 32.5L236.3 30.1L231.5 30.1L226.7 30.1L226.2 29.9L221.9 27.5L217.1 27.5L216.6 27.2L212.3 24.8L207.5 24.8L202.7 24.8L202.2 24.5L197.9 22.1L193.1 22.1L188.3 22.1L187.8 21.9L183.5 19.4L178.7 19.4L173.9 19.4L169.1 19.4L168.6 19.2L164.3 16.8L159.5 16.8L154.7 16.8L149.9 16.8L145.1 16.8L144.6 16.5L140.3 14.1L135.5 14.1L130.7 14.1L125.8 14.1L121.0 14.1L120.6 13.9L116.2 11.4L111.4 11.4L106.6 11.4L101.8 11.4L97.0 11.4L92.2 11.4L87.4 11.4L82.6 11.4L77.8 11.4L73.0 11.4L68.2 11.4L63.4 11.4L58.6 11.4L53.8 11.4L53.4 11.2L49.0 8.7M533.1 277.7L529.3 275.6L528.4 275.0L528.4 272.4L528.4 269.7L528.4 267.0L528.4 264.4L528.3 261.7L528.3 259.0L528.3 256.4L528.3 253.7L528.3 251.0L528.3 248.4L528.3 245.7L528.3 243.1L528.3 240.4L524.5 238.3L523.5 237.7L523.5 235.1L523.5 232.4L523.5 229.7L523.5 227.1L519.7 225.0L518.7 224.4L518.7 221.7L518.6 219.1L518.6 216.4L518.6 213.7L514.9 211.7L513.8 211.1L513.8 208.4L513.8 205.7L513.8 203.1L510.1 201.0L509.0 200.4L509.0 197.8L508.9 195.1L505.3 193.1L504.1 192.4L504.1 189.8L504.1 187.1L500.5 185.1L499.3 184.4L499.3 181.8L495.7 179.8L494.5 179.1L494.4 176.4L494.4 173.8L490.9 171.8L489.6 171.1L489.6 168.4L486.1 166.5L484.8 165.8L484.7 163.1L481.3 161.2L479.9 160.4L479.9 157.8L476.5 155.9L475.1 155.1L475.0 152.4L471.7 150.6L470.2 149.8L470.2 147.1L466.9 145.3L465.4 144.4L465.3 141.8L462.1 140.0L460.5 139.1L457.3 137.3L455.7 136.5L455.6 133.8L452.5 132.0L450.8 131.1L447.6 129.4L446.0 128.5L445.9 125.8L442.8 124.1L441.2 123.1L438.0 121.4L436.3 120.5L436.3 117.8L433.2 116.1L431.5 115.1L428.4 113.5L426.7 112.5L423.6 110.8L421.9 109.8L418.8 108.1L417.0 107.1L414.0 105.5L412.2 104.5L412.2 101.8L409.2 100.2L407.4 99.1L404.4 97.5L402.5 96.5L399.6 94.9L397.7 93.8L394.8 92.2L392.9 91.1L390.0 89.5L388.1 88.5L385.2 86.9L383.3 85.8L380.4 84.2L378.5 83.2L375.6 81.5L373.7 80.5L370.8 78.9L368.9 77.8L366.0 76.2L361.2 76.1L359.4 75.2L356.4 73.5L354.6 72.5L351.6 70.8L349.8 69.8L346.8 68.2L345.0 67.2L342.0 65.5L340.2 64.5L337.2 62.8L332.4 62.8L330.7 61.8L327.6 60.1L325.9 59.2L322.8 57.4L318.0 57.4L316.3 56.5L313.2 54.7L311.5 53.8L308.4 52.1L303.6 52.0L302.0 51.2L298.8 49.4L297.2 48.5L294.0 46.7L289.1 46.7L287.6 45.8L284.3 44.0L279.5 44.0L278.1 43.2L274.7 41.3L269.9 41.3L268.5 40.5L265.1 38.6L260.3 38.6L259.0 37.8L255.5 35.9L250.7 35.9L249.4 35.2L245.9 33.3L241.1 33.2L239.8 32.5L236.3 30.6L231.5 30.6L226.7 30.5L225.5 29.9L221.9 27.9L217.1 27.9L215.9 27.2L212.3 25.2L207.5 25.2L202.7 25.2L201.5 24.5L197.9 22.5L193.1 22.5L188.3 22.5L187.2 21.9L183.5 19.8L178.7 19.8L173.9 19.8L169.1 19.8L168.0 19.2L164.3 17.1L159.5 17.1L154.7 17.1L149.9 17.1L145.1 17.1L144.0 16.5L140.3 14.4L135.5 14.4L130.7 14.4L125.8 14.4L121.0 14.4L120.0 13.9L116.2 11.8L111.4 11.7L106.6 11.7L101.8 11.7L97.0 11.7L92.2 11.7L87.4 11.7L82.6 11.7L77.8 11.7L73.0 11.7L68.2 11.7L63.4 11.7L58.6 11.7L53.8 11.7L52.8 11.2L49.0 9.1M532.2 277.7L529.3 276.1L527.4 275.0L527.4 272.4L527.4 269.7L527.4 267.0L527.4 264.4L527.4 261.7L527.4 259.0L527.4 256.4L527.4 253.7L527.4 251.1L527.3 248.4L527.3 245.7L527.3 243.1L527.3 240.4L524.5 238.8L522.5 237.7L522.5 235.1L522.5 232.4L522.5 229.7L522.4 227.1L519.7 225.5L517.7 224.4L517.6 221.7L517.6 219.1L517.6 216.4L517.5 213.7L514.9 212.3L512.8 211.1L512.7 208.4L512.7 205.7L512.6 203.1L510.1 201.7L507.9 200.4L507.8 197.8L507.8 195.1L505.3 193.7L503.0 192.4L502.9 189.8L502.9 187.1L500.5 185.8L498.1 184.4L498.0 181.8L495.7 180.5L493.2 179.1L493.2 176.4L493.1 173.8L490.9 172.5L488.3 171.1L488.2 168.4L486.1 167.2L483.4 165.8L483.3 163.1L481.3 162.0L478.6 160.4L478.5 157.8L476.5 156.7L473.7 155.1L473.6 152.4L471.7 151.4L468.8 149.8L468.7 147.1L466.9 146.1L463.9 144.4L463.7 141.8L462.1 140.9L458.9 139.1L457.3 138.2L454.1 136.5L454.0 133.8L452.5 132.9L449.2 131.1L447.6 130.3L444.4 128.5L444.2 125.8L442.8 125.0L439.5 123.1L438.0 122.3L434.7 120.5L434.5 117.8L433.2 117.1L429.7 115.1L428.4 114.4L424.9 112.5L423.6 111.8L420.1 109.8L418.8 109.1L415.3 107.1L414.0 106.5L410.5 104.5L410.3 101.8L409.2 101.2L405.5 99.1L404.4 98.6L400.7 96.5L399.6 95.9L395.9 93.8L394.8 93.2L391.1 91.1L390.0 90.6L386.3 88.5L385.2 87.9L381.5 85.8L380.4 85.2L376.7 83.2L375.6 82.6L371.9 80.5L370.8 79.9L367.1 77.8L366.0 77.2L361.2 77.1L357.6 75.2L356.4 74.5L352.8 72.5L351.6 71.8L348.0 69.8L346.8 69.1L343.2 67.2L342.0 66.5L338.4 64.5L337.2 63.8L332.4 63.7L329.0 61.8L327.6 61.1L324.2 59.2L322.8 58.4L318.0 58.3L314.7 56.5L313.2 55.6L309.9 53.8L308.4 53.0L303.6 52.9L300.4 51.2L298.8 50.2L295.6 48.5L294.0 47.6L289.1 47.5L286.1 45.8L284.3 44.8L279.5 44.8L276.6 43.2L274.7 42.1L269.9 42.1L267.1 40.5L265.1 39.4L260.3 39.4L257.6 37.8L255.5 36.7L250.7 36.7L248.1 35.2L245.9 34.0L241.1 33.9L238.5 32.5L236.3 31.3L231.5 31.2L226.7 31.2L224.2 29.9L221.9 28.6L217.1 28.5L214.7 27.2L212.3 25.9L207.5 25.8L202.7 25.8L200.4 24.5L197.9 23.1L193.1 23.1L188.3 23.1L186.0 21.9L183.5 20.4L178.7 20.4L173.9 20.4L169.1 20.4L166.9 19.2L164.3 17.7L159.5 17.7L154.7 17.7L149.9 17.7L145.1 17.7L143.0 16.5L140.3 15.0L135.5 15.0L130.7 15.0L125.8 15.0L121.0 15.0L119.0 13.9L116.2 12.3L111.4 12.3L106.6 12.3L101.8 12.3L97.0 12.3L92.2 12.3L87.4 12.3L82.6 12.3L77.8 12.3L73.0 12.3L68.2 12.3L63.4 12.2L58.6 12.2L53.8 12.2L51.9 11.2L49.0 9.6"/>
<path fill="none" stroke="#000" stroke-width="1.15" stroke-linejoin="round" d="M531.2 277.7L529.3 276.6L526.5 275.0L526.5 272.4L526.5 269.7L526.5 267.0L526.5 264.4L526.4 261.7L526.4 259.0L526.4 256.4L526.4 253.7L526.4 251.0L526.4 248.4L526.3 245.7L526.3 243.1L526.3 240.4L524.5 239.4L521.5 237.7L521.5 235.1L521.5 232.4L521.4 229.7L521.4 227.1L519.7 226.1L516.6 224.4L516.6 221.7L516.6 219.1L516.5 216.4L516.5 213.7L514.9 212.9L511.7 211.1L511.6 208.4L511.6 205.7L511.5 203.1L510.1 202.3L506.7 200.4L506.7 197.8L506.6 195.1L505.3 194.3L501.8 192.4L501.7 189.8L501.7 187.1L500.5 186.4L496.9 184.4L496.8 181.8L495.7 181.1L492.0 179.1L491.9 176.4L491.8 173.8L490.9 173.2L487.0 171.1L486.9 168.4L486.1 168.0L482.1 165.8L482.0 163.1L481.3 162.7L477.2 160.4L477.1 157.8L476.5 157.4L472.3 155.1L472.1 152.4L471.7 152.2L467.3 149.8L467.2 147.1L466.9 147.0L462.4 144.4L462.2 141.8L462.1 141.7L457.4 139.1L457.3 139.0L452.6 136.5L452.5 134.8L450.7 133.8L447.6 132.1L445.9 131.1L442.8 129.3L441.4 128.5L438.0 126.6L436.6 125.8L433.2 124.0L431.8 123.1L428.4 121.3L427.0 120.5L423.6 118.6L422.2 117.8L418.8 116.0L417.4 115.1L414.0 113.4L412.3 112.5L409.2 110.8L407.5 109.8L404.4 108.1L402.7 107.1L399.6 105.4L397.9 104.5L394.8 102.8L392.9 101.8L390.0 100.2L388.1 99.1L385.2 97.5L383.3 96.5L380.4 94.9L378.5 93.8L375.6 92.2L373.7 91.1L370.8 89.5L368.9 88.5L366.0 86.9L364.3 85.8L361.2 84.1L359.5 83.2L356.4 81.5L354.7 80.5L351.6 78.8L349.9 77.8L346.8 76.1L345.0 75.2L342.0 73.3L340.5 72.5L337.2 70.7L335.7 69.8L332.4 68.0L330.9 67.2L327.6 65.3L326.1 64.5L322.8 62.7L321.3 61.8L318.0 60.0L316.5 59.2L313.2 57.5L311.4 56.5L308.4 54.8L306.6 53.8L303.6 53.8L298.9 51.2L298.8 51.1L294.1 48.5L294.0 48.4L289.1 48.3L284.6 45.8L284.3 45.7L279.5 45.6L275.2 43.2L274.7 42.9L269.9 42.8L265.7 40.5L265.1 40.2L260.3 40.1L256.2 37.8L255.5 37.5L250.7 37.4L246.7 35.2L245.9 34.7L241.1 34.7L237.2 32.5L236.3 32.0L231.5 31.9L226.7 31.9L223.0 29.9L221.9 29.2L217.1 29.2L213.5 27.2L212.3 26.5L207.5 26.5L202.7 26.4L199.2 24.5L197.9 23.8L193.1 23.8L188.3 23.7L184.9 21.9L183.5 21.1L178.7 21.0L173.9 21.0L169.1 21.0L165.8 19.2L164.3 18.3L159.5 18.3L154.7 18.3L149.9 18.2L145.1 18.2L142.0 16.5L140.3 15.6L135.5 15.6L130.7 15.5L125.8 15.5L121.0 15.5L118.1 13.9L116.2 12.9L111.4 12.8L106.6 12.8L101.8 12.8L97.0 12.8L92.2 12.8L87.4 12.8L82.6 12.8L77.8 12.8L73.0 12.8L68.2 12.8L63.4 12.8L58.6 12.8L53.8 12.8L50.9 11.2L49.0 10.1M49.0 216.6L53.8 216.6L58.6 217.3L63.4 217.3L68.2 217.9L73.0 218.2L77.8 218.7L79.5 219.1L82.6 219.9L87.4 220.6L92.2 221.3L93.9 221.7L97.0 222.6L101.8 223.9L103.5 224.4L106.6 225.6L110.7 227.1L111.4 227.3L116.2 229.1L117.4 229.7L121.0 231.3L123.8 232.4L125.8 233.5L128.6 235.1L130.7 236.2L132.7 237.7L135.5 239.8L136.6 240.4L139.8 243.1L140.3 243.5L143.0 245.7L145.1 247.5L145.9 248.4L148.3 251.1L149.9 252.8L150.7 253.7L151.9 256.4L153.1 259.0L154.7 260.8L155.3 261.7L156.3 264.4L156.7 267.0L157.9 269.7L157.9 272.4L159.1 275.0L159.1 277.7M530.3 277.7L529.3 277.2L525.5 275.0L525.5 272.4L525.5 269.7L525.5 267.0L525.5 264.4L525.5 261.7L525.5 259.0L525.5 256.4L525.4 253.7L525.4 251.0L525.4 248.4L525.4 245.7L525.3 243.1L525.3 240.4L524.5 239.9L520.5 237.7L520.5 235.1L520.5 232.4L520.4 229.7L520.4 227.1L519.7 226.7L515.6 224.4L515.6 221.7L515.5 219.1L515.5 216.4L515.4 213.7L514.9 213.5L510.6 211.1L510.6 208.4L510.5 205.7L510.4 203.1L510.1 202.9L505.6 200.4L505.5 197.8L505.5 195.1L505.3 195.0L500.7 192.4L500.6 189.8L500.5 187.6L499.7 187.1L495.7 184.4L495.7 184.3L491.4 181.8L490.9 181.4L487.5 179.1L486.1 178.2L483.1 176.4L481.3 175.3L478.8 173.8L476.5 172.4L474.2 171.1L471.7 169.5L469.9 168.4L466.9 166.8L465.1 165.8L462.1 164.1L460.3 163.1L457.3 161.4L455.5 160.4L452.5 158.8L450.7 157.8L447.6 156.1L445.7 155.1L442.8 153.5L440.9 152.4L438.0 150.9L435.8 149.8L433.2 148.5L430.7 147.1L428.4 145.8L425.6 144.4L423.6 143.5L420.6 141.8L418.8 140.8L415.4 139.1L414.0 138.4L410.5 136.5L409.2 135.8L405.2 133.8L404.4 133.4L399.8 131.1L399.6 131.0L395.0 128.5L394.8 128.4L390.0 126.0L389.6 125.8L385.2 123.4L384.8 123.1L380.4 120.7L379.9 120.5L375.6 118.4L374.6 117.8L370.8 115.7L369.8 115.1L366.0 113.0L365.0 112.5L361.2 110.4L360.2 109.8L356.4 107.7L355.4 107.1L351.6 105.0L350.6 104.5L346.8 102.4L345.8 101.8L342.0 99.7L341.0 99.1L337.2 97.0L336.2 96.5L332.4 94.1L332.0 93.8L327.6 91.4L327.2 91.1L322.8 88.7L322.4 88.5L318.1 85.8L318.0 85.7L313.3 83.2L313.2 83.1L309.1 80.5L308.4 80.1L304.8 77.8L303.6 77.1L300.0 75.2L298.8 74.4L295.7 72.5L294.0 71.5L290.9 69.8L289.1 68.7L286.6 67.2L284.3 65.9L281.8 64.5L279.5 63.1L277.6 61.8L274.7 60.3L272.8 59.2L269.9 57.6L268.2 56.5L265.1 54.8L263.4 53.8L260.3 52.2L258.6 51.2L255.5 49.5L253.8 48.5L250.7 46.8L248.9 45.8L245.9 44.2L243.9 43.2L241.1 41.8L238.9 40.5L236.3 39.2L233.6 37.8L231.5 36.8L228.3 35.2L226.7 34.4L222.6 32.5L221.9 32.2L217.2 29.9L217.1 29.9L212.3 27.6L211.4 27.2L207.5 27.1L202.7 27.1L198.1 24.5L197.9 24.4L193.1 24.4L188.3 24.3L183.8 21.9L183.5 21.7L178.7 21.6L173.9 21.6L169.1 21.6L164.8 19.2L164.3 18.9L159.5 18.9L154.7 18.9L149.9 18.8L145.1 18.8L140.9 16.5L140.3 16.1L135.5 16.1L130.7 16.1L125.8 16.1L121.0 16.1L117.1 13.9L116.2 13.4L111.4 13.4L106.6 13.4L101.8 13.4L97.0 13.4L92.2 13.3L87.4 13.3L82.6 13.3L77.8 13.3L73.0 13.3L68.2 13.3L63.4 13.3L58.6 13.3L53.8 13.3L50.0 11.2L49.0 10.7M49.0 167.2L53.8 167.2L58.6 167.2L63.4 167.2L68.2 167.4L73.0 167.7L77.8 168.1L82.6 168.1L86.0 168.4L87.4 168.6L92.2 169.0L97.0 169.5L101.8 170.2L106.6 170.8L110.0 171.1L111.4 171.3L116.2 172.1L121.0 173.0L125.1 173.8L125.8 173.9L130.7 174.8L135.5 175.7L139.5 176.4L140.3 176.6L145.1 178.2L149.1 179.1L149.9 179.3L154.7 180.9L158.7 181.8L159.5 181.9L164.3 183.5L167.0 184.4L169.1 185.3L173.4 187.1L173.9 187.2L178.7 189.3L179.8 189.8L183.5 191.3L186.2 192.4L188.3 193.3L191.5 195.1L193.1 196.0L196.3 197.8L197.9 198.6L201.1 200.4L202.7 201.6L204.7 203.1L207.5 205.1L208.3 205.7L212.0 208.4L212.3 208.7L215.5 211.1L217.1 212.2L218.7 213.7L221.6 216.4L221.9 216.8L223.5 219.1L226.4 221.7L226.7 222.1L228.3 224.4L231.2 227.1L231.5 227.5L232.9 229.7L234.5 232.4L236.1 235.1L236.3 235.5L237.7 237.7L239.3 240.4L240.8 243.1L241.1 243.9L241.7 245.7L242.8 248.4L244.1 251.1L244.9 253.7L245.7 256.4L245.9 257.2L246.5 259.0L246.5 261.7L247.3 264.4L247.8 267.0L248.1 269.7L248.1 272.4L248.1 275.0L248.1 277.7M529.3 277.7L529.3 277.7L524.6 275.0L524.6 272.4L524.6 269.7L524.6 267.0L524.6 264.4L524.5 261.7L524.5 259.0L524.5 256.4L524.5 256.1L523.2 253.7L522.0 251.0L520.4 248.4L519.7 247.2L518.8 245.7L516.7 243.1L515.0 240.4L514.9 240.2L512.7 237.7L510.2 235.1L510.1 234.9L507.9 232.4L505.4 229.7L505.3 229.6L502.5 227.1L500.5 225.3L499.5 224.4L496.5 221.7L495.7 221.2L492.9 219.1L490.9 217.3L489.7 216.4L486.1 214.1L485.6 213.7L482.2 211.1L481.3 210.5L477.5 208.4L476.5 207.7L473.5 205.7L471.7 204.7L468.7 203.1L466.9 202.1L463.9 200.4L462.1 199.4L459.1 197.8L457.3 196.7L453.7 195.1L452.5 194.4L448.9 192.4L447.6 191.8L443.1 189.8L442.8 189.6L438.0 187.5L437.2 187.1L433.2 185.3L431.2 184.4L428.4 183.4L424.0 181.8L423.6 181.6L418.8 179.5L417.7 179.1L414.0 177.9L409.7 176.4L409.2 176.2L404.4 174.2L403.3 173.8L399.6 172.5L395.3 171.1L394.8 170.9L390.0 169.6L387.3 168.4L385.2 167.7L380.4 166.2L378.7 165.8L375.6 164.9L370.8 163.7L369.1 163.1L366.0 162.0L361.2 161.1L359.5 160.4L356.4 159.3L351.6 158.4L348.2 157.8L346.8 157.4L342.0 156.0L338.6 155.1L337.2 154.7L332.4 153.4L329.0 152.4L327.6 152.0L322.8 151.6L318.0 150.7L314.6 149.8L313.2 149.0L308.4 149.0L305.0 147.1L303.6 146.3L298.8 146.3L295.4 144.4L294.0 143.7L290.6 141.8L289.1 141.0L285.8 139.1L285.8 136.5L284.3 135.7L281.0 133.8L281.0 131.1L279.5 130.3L277.9 128.5L276.2 125.8L275.5 123.1L274.7 122.3L273.1 120.5L270.7 117.8L269.9 117.0L268.3 115.1L265.9 112.5L265.1 111.7L264.0 109.8L262.4 107.1L260.3 105.4L259.2 104.5L257.6 101.8L255.5 100.1L254.4 99.1L252.3 96.5L250.7 94.7L249.9 93.8L247.2 91.1L245.9 90.0L243.9 88.5L241.4 85.8L241.1 85.6L238.5 83.2L236.3 81.1L235.5 80.5L231.9 77.8L231.5 77.6L228.9 75.2L226.7 73.1L226.0 72.5L222.2 69.8L221.9 69.6L218.9 67.2L217.1 65.6L215.5 64.5L212.3 62.3L211.6 61.8L207.7 59.2L207.5 59.0L203.7 56.5L202.7 55.8L199.1 53.8L197.9 53.1L194.9 51.2L193.1 50.2L190.1 48.5L188.3 47.5L185.3 45.8L183.5 44.8L180.5 43.2L178.7 42.2L175.1 40.5L173.9 39.9L170.1 37.8L169.1 37.4L164.3 35.5L163.7 35.2L159.5 33.2L157.8 32.5L154.7 31.4L150.9 29.9L149.9 29.4L145.1 27.8L143.4 27.2L140.3 26.1L135.7 24.5L135.5 24.4L130.7 23.1L126.2 21.9L125.8 21.8L121.0 20.4L116.6 19.2L116.2 19.1L111.4 18.2L106.6 17.0L103.9 16.5L101.8 16.1L97.0 15.3L92.2 14.6L87.9 13.9L87.4 13.9L82.6 13.9L77.8 13.8L73.0 13.8L68.2 13.8L63.4 13.8L58.6 13.8L53.8 13.8L49.0 11.2L49.0 11.2M49.0 123.7L53.8 123.7L58.6 123.7L63.4 123.7L68.2 123.8L73.0 124.2L77.8 124.2L82.6 124.2L87.4 124.4L92.2 124.4L97.0 124.6L101.8 124.6L106.6 124.9L111.4 125.0L116.2 125.4L121.0 125.4L124.4 125.8L125.8 125.9L130.7 126.0L135.5 126.5L140.3 126.5L145.1 127.0L149.9 127.3L154.7 127.6L159.5 128.0L164.3 128.1L167.6 128.5L169.1 128.7L173.9 129.3L178.7 129.3L183.5 130.0L188.3 130.5L193.1 130.7L196.5 131.1L197.9 131.4L202.7 132.0L207.5 132.3L212.3 133.2L217.1 133.2L220.5 133.8L221.9 134.1L226.7 134.2L231.5 135.5L236.3 135.5L239.7 136.5L241.1 136.9L245.9 136.9L250.7 138.2L255.5 138.2L258.9 139.1L260.3 139.9L265.1 139.9L269.9 139.9L273.3 141.8L274.7 142.6L279.5 142.6L282.9 144.4L284.3 145.2L287.7 147.1L289.1 147.9L292.5 149.8L292.5 152.4L294.0 153.2L297.3 155.1L297.3 157.8L297.3 160.4L298.8 161.2L300.4 163.1L300.4 165.8L302.8 168.4L302.8 171.1L303.6 171.9L305.2 173.8L305.2 176.4L307.6 179.1L307.9 181.8L308.4 182.6L309.5 184.4L309.5 187.1L311.1 189.8L311.6 192.4L312.7 195.1L313.2 195.9L314.0 197.8L314.3 200.4L315.2 203.1L316.4 205.7L316.4 208.4L317.6 211.1L318.0 211.9L318.6 213.7L318.8 216.4L319.6 219.1L320.0 221.7L320.6 224.4L321.5 227.1L321.5 229.7L322.5 232.4L322.5 235.1L322.8 235.9L323.4 237.7L323.4 240.4L324.1 243.1L324.4 245.7L324.9 248.4L324.9 251.1L325.4 253.7L325.4 256.4L325.7 259.0L325.7 261.7L325.7 264.4L326.3 267.0L326.5 269.7L326.5 272.4L326.5 275.0L326.5 277.7"/>
</g>
<g clip-path="url(#c2)">
<path fill="#FFE6CC" fill-rule="evenodd" d="M49.0 626.3L53.8 626.3L58.6 626.3L63.4 626.3L68.2 626.3L73.0 626.3L77.8 626.3L82.6 626.3L87.4 626.3L92.2 626.3L97.0 626.3L101.8 626.3L106.6 626.3L111.4 626.3L116.2 626.3L121.0 626.3L125.8 626.3L130.7 626.3L135.5 626.3L140.3 626.3L145.1 626.3L149.9 626.3L154.7 626.3L159.5 626.3L164.3 626.3L169.1 626.3L173.9 626.3L178.7 626.3L183.5 626.3L188.3 626.3L193.1 626.3L197.9 626.3L202.7 626.3L207.5 626.3L212.3 626.3L217.1 626.3L221.9 626.3L226.7 626.3L231.5 626.3L236.3 626.3L241.1 626.3L245.9 626.3L250.7 626.3L255.5 626.3L260.3 626.3L265.1 626.3L269.9 626.3L274.7 626.3L279.5 626.3L284.3 626.3L289.1 626.3L294.0 626.3L298.8 626.3L303.6 626.3L308.4 626.3L313.2 626.3L318.0 626.3L322.8 626.3L327.6 626.3L332.4 626.3L337.2 626.3L342.0 626.3L346.8 626.3L351.6 626.3L356.4 626.3L361.2 626.3L366.0 626.3L370.8 626.3L375.6 626.3L380.4 626.3L385.2 626.3L390.0 626.3L394.8 626.3L399.6 626.3L404.4 626.3L409.2 626.3L414.0 626.3L418.8 626.3L423.6 626.3L428.4 626.3L433.2 626.3L438.0 626.3L442.8 626.3L447.6 626.3L452.5 626.3L457.3 626.3L462.1 626.3L466.9 626.3L471.7 626.3L476.5 626.3L481.3 626.3L486.1 626.3L490.9 626.3L495.7 626.3L500.5 626.3L505.3 626.3L510.1 626.3L514.9 626.3L519.7 626.3L524.5 626.3L529.3 626.3L533.1 626.3L529.3 624.2L528.3 623.6L528.3 621.0L528.3 618.3L528.3 615.6L528.3 613.0L528.3 610.3L528.3 607.6L528.3 605.0L528.3 602.3L528.3 599.6L528.4 597.0L528.4 594.3L528.4 591.7L528.4 589.0L524.5 586.8L523.6 586.3L523.6 583.7L523.6 581.0L523.6 578.3L523.6 575.7L519.7 573.5L518.8 573.0L518.8 570.3L518.8 567.7L518.8 565.0L518.8 562.3L514.9 560.2L514.0 559.7L514.0 557.0L514.0 554.3L514.1 551.7L510.1 549.5L509.2 549.0L509.3 546.4L509.3 543.7L505.3 541.5L504.5 541.0L504.5 538.4L504.5 535.7L500.5 533.5L499.7 533.0L499.7 530.4L495.7 528.1L494.9 527.7L494.9 525.0L494.9 522.4L490.9 520.1L490.1 519.7L490.1 517.0L486.1 514.8L485.3 514.4L485.3 511.7L481.3 509.5L480.5 509.0L480.5 506.4L476.5 504.1L475.7 503.7L475.7 501.0L471.7 498.8L470.9 498.4L471.0 495.7L466.9 493.4L466.2 493.0L466.2 490.4L462.1 488.1L461.4 487.7L457.3 485.4L456.6 485.1L456.6 482.4L452.5 480.1L451.8 479.7L447.6 477.4L447.0 477.1L447.0 474.4L442.8 472.1L442.2 471.7L438.0 469.4L437.4 469.1L437.4 466.4L433.2 464.1L432.6 463.7L428.4 461.4L427.8 461.1L423.6 458.8L423.0 458.4L418.8 456.1L418.2 455.7L414.0 453.4L413.4 453.1L413.4 450.4L409.2 448.1L408.6 447.7L404.4 445.4L403.8 445.1L399.6 442.8L399.0 442.4L394.8 440.1L394.2 439.8L390.0 437.4L389.4 437.1L385.2 434.8L384.6 434.4L380.4 432.1L379.8 431.8L375.6 429.4L375.0 429.1L370.8 426.8L370.2 426.4L366.0 424.1L361.2 424.1L360.5 423.8L356.4 421.5L355.7 421.1L351.6 418.8L350.9 418.4L346.8 416.1L346.1 415.8L342.0 413.5L341.3 413.1L337.2 410.8L332.4 410.8L331.7 410.4L327.6 408.1L326.9 407.8L322.8 405.5L318.0 405.5L317.3 405.1L313.2 402.8L312.5 402.4L308.4 400.2L303.6 400.2L302.9 399.8L298.8 397.5L298.1 397.1L294.0 394.8L289.1 394.8L288.4 394.4L284.3 392.2L279.5 392.2L278.8 391.8L274.7 389.5L269.9 389.5L269.2 389.1L265.1 386.9L260.3 386.9L259.6 386.4L255.5 384.2L250.7 384.2L250.0 383.8L245.9 381.5L241.1 381.5L240.4 381.1L236.3 378.9L231.5 378.9L226.7 378.9L225.9 378.5L221.9 376.2L217.1 376.2L216.3 375.8L212.3 373.6L207.5 373.6L202.7 373.6L201.9 373.1L197.9 370.9L193.1 370.9L188.3 370.9L187.4 370.5L183.5 368.3L178.7 368.3L173.9 368.3L169.1 368.3L168.2 367.8L164.3 365.6L159.5 365.6L154.7 365.6L149.9 365.6L145.1 365.6L144.2 365.1L140.3 363.0L135.5 363.0L130.7 363.0L125.8 363.0L121.0 363.0L120.1 362.5L116.2 360.3L111.4 360.3L106.6 360.3L101.8 360.3L97.0 360.3L92.2 360.3L87.4 360.3L82.6 360.3L77.8 360.3L73.0 360.3L68.2 360.3L63.4 360.3L58.6 360.3L53.8 360.3L52.8 359.8L49.0 357.7L49.0 359.8L49.0 362.5L49.0 365.1L49.0 367.8L49.0 370.5L49.0 373.1L49.0 375.8L49.0 378.5L49.0 381.1L49.0 383.8L49.0 386.4L49.0 389.1L49.0 391.8L49.0 394.4L49.0 397.1L49.0 399.8L49.0 402.4L49.0 405.1L49.0 407.8L49.0 410.4L49.0 413.1L49.0 415.8L49.0 418.4L49.0 421.1L49.0 423.8L49.0 426.4L49.0 429.1L49.0 431.8L49.0 434.4L49.0 437.1L49.0 439.8L49.0 442.4L49.0 445.1L49.0 447.7L49.0 450.4L49.0 453.1L49.0 455.7L49.0 458.4L49.0 461.1L49.0 463.7L49.0 466.4L49.0 469.1L49.0 471.7L49.0 474.4L49.0 477.1L49.0 479.7L49.0 482.4L49.0 485.1L49.0 487.7L49.0 490.4L49.0 493.0L49.0 495.7L49.0 498.4L49.0 501.0L49.0 503.7L49.0 506.4L49.0 509.0L49.0 511.7L49.0 514.4L49.0 517.0L49.0 519.7L49.0 522.4L49.0 525.0L49.0 527.7L49.0 530.4L49.0 533.0L49.0 535.7L49.0 538.4L49.0 541.0L49.0 543.7L49.0 546.4L49.0 549.0L49.0 551.7L49.0 554.3L49.0 557.0L49.0 559.7L49.0 562.3L49.0 565.0L49.0 567.7L49.0 570.3L49.0 573.0L49.0 575.7L49.0 578.3L49.0 581.0L49.0 583.7L49.0 586.3L49.0 589.0L49.0 591.7L49.0 594.3L49.0 597.0L49.0 599.6L49.0 602.3L49.0 605.0L49.0 607.6L49.0 610.3L49.0 613.0L49.0 615.6L49.0 618.3L49.0 621.0L49.0 623.6L49.0 626.3Z"/>
<path fill="#FFCC99" fill-rule="evenodd" d="M49.0 626.3L53.8 626.3L58.6 626.3L63.4 626.3L68.2 626.3L73.0 626.3L77.8 626.3L82.6 626.3L87.4 626.3L92.2 626.3L97.0 626.3L101.8 626.3L106.6 626.3L111.4 626.3L116.2 626.3L121.0 626.3L125.8 626.3L130.7 626.3L135.5 626.3L140.3 626.3L145.1 626.3L149.9 626.3L154.7 626.3L159.5 626.3L164.3 626.3L169.1 626.3L173.9 626.3L178.7 626.3L183.5 626.3L188.3 626.3L193.1 626.3L197.9 626.3L202.7 626.3L207.5 626.3L212.3 626.3L217.1 626.3L221.9 626.3L226.7 626.3L231.5 626.3L236.3 626.3L241.1 626.3L245.9 626.3L250.7 626.3L255.5 626.3L260.3 626.3L265.1 626.3L269.9 626.3L274.7 626.3L279.5 626.3L284.3 626.3L289.1 626.3L294.0 626.3L298.8 626.3L303.6 626.3L308.4 626.3L313.2 626.3L318.0 626.3L322.8 626.3L327.6 626.3L332.4 626.3L337.2 626.3L342.0 626.3L346.8 626.3L351.6 626.3L356.4 626.3L361.2 626.3L366.0 626.3L370.8 626.3L375.6 626.3L380.4 626.3L385.2 626.3L390.0 626.3L394.8 626.3L399.6 626.3L404.4 626.3L409.2 626.3L414.0 626.3L418.8 626.3L423.6 626.3L428.4 626.3L433.2 626.3L438.0 626.3L442.8 626.3L447.6 626.3L452.5 626.3L457.3 626.3L462.1 626.3L466.9 626.3L471.7 626.3L476.5 626.3L481.3 626.3L486.1 626.3L490.9 626.3L495.7 626.3L500.5 626.3L505.3 626.3L510.1 626.3L514.9 626.3L519.7 626.3L524.5 626.3L529.3 626.3L532.2 626.3L529.3 624.7L527.3 623.6L527.3 621.0L527.3 618.3L527.4 615.6L527.4 613.0L527.4 610.3L527.4 607.6L527.4 605.0L527.4 602.3L527.4 599.6L527.4 597.0L527.4 594.3L527.4 591.7L527.5 589.0L524.5 587.4L522.6 586.3L522.6 583.7L522.7 581.0L522.7 578.3L522.7 575.7L519.7 574.0L517.9 573.0L517.9 570.3L517.9 567.7L517.9 565.0L518.0 562.3L514.9 560.6L513.1 559.7L513.2 557.0L513.2 554.3L513.2 551.7L510.1 549.9L508.4 549.0L508.4 546.4L508.5 543.7L505.3 541.9L503.6 541.0L503.7 538.4L503.7 535.7L500.5 533.9L498.9 533.0L498.9 530.4L495.7 528.6L494.1 527.7L494.1 525.0L494.2 522.4L490.9 520.5L489.3 519.7L489.4 517.0L486.1 515.2L484.6 514.4L484.6 511.7L481.3 509.9L479.8 509.0L479.8 506.4L476.5 504.5L475.0 503.7L475.0 501.0L471.7 499.2L470.2 498.4L470.3 495.7L466.9 493.8L465.4 493.0L465.5 490.4L462.1 488.5L460.7 487.7L457.3 485.8L455.9 485.1L455.9 482.4L452.5 480.5L451.1 479.7L447.6 477.8L446.3 477.1L446.3 474.4L442.8 472.5L441.5 471.7L438.0 469.8L436.7 469.1L436.7 466.4L433.2 464.5L431.9 463.7L428.4 461.8L427.1 461.1L423.6 459.1L422.3 458.4L418.8 456.5L417.5 455.7L414.0 453.8L412.7 453.1L412.7 450.4L409.2 448.5L407.9 447.7L404.4 445.8L403.1 445.1L399.6 443.1L398.3 442.4L394.8 440.5L393.5 439.8L390.0 437.8L388.7 437.1L385.2 435.1L383.9 434.4L380.4 432.5L379.1 431.8L375.6 429.8L374.3 429.1L370.8 427.1L369.5 426.4L366.0 424.5L361.2 424.5L359.9 423.8L356.4 421.8L355.1 421.1L351.6 419.2L350.3 418.4L346.8 416.5L345.5 415.8L342.0 413.8L340.7 413.1L337.2 411.2L332.4 411.2L331.0 410.4L327.6 408.5L326.2 407.8L322.8 405.8L318.0 405.9L316.6 405.1L313.2 403.2L311.8 402.4L308.4 400.5L303.6 400.5L302.2 399.8L298.8 397.9L297.4 397.1L294.0 395.2L289.1 395.2L287.7 394.4L284.3 392.6L279.5 392.6L278.1 391.8L274.7 389.9L269.9 389.9L268.5 389.1L265.1 387.3L260.3 387.3L258.8 386.4L255.5 384.6L250.7 384.6L249.2 383.8L245.9 382.0L241.1 382.0L239.6 381.1L236.3 379.3L231.5 379.3L226.7 379.3L225.1 378.5L221.9 376.7L217.1 376.7L215.5 375.8L212.3 374.0L207.5 374.0L202.7 374.0L201.1 373.1L197.9 371.4L193.1 371.4L188.3 371.4L186.6 370.5L183.5 368.7L178.7 368.7L173.9 368.8L169.1 368.8L167.3 367.8L164.3 366.1L159.5 366.1L154.7 366.1L149.9 366.1L145.1 366.1L143.3 365.1L140.3 363.5L135.5 363.5L130.7 363.5L125.8 363.5L121.0 363.5L119.2 362.5L116.2 360.8L111.4 360.8L106.6 360.8L101.8 360.8L97.0 360.9L92.2 360.9L87.4 360.9L82.6 360.9L77.8 360.9L73.0 360.9L68.2 360.9L63.4 360.9L58.6 360.9L53.8 360.9L51.9 359.8L49.0 358.2L49.0 359.8L49.0 362.5L49.0 365.1L49.0 367.8L49.0 370.5L49.0 373.1L49.0 375.8L49.0 378.5L49.0 381.1L49.0 383.8L49.0 386.4L49.0 389.1L49.0 391.8L49.0 394.4L49.0 397.1L49.0 399.8L49.0 402.4L49.0 405.1L49.0 407.8L49.0 410.4L49.0 413.1L49.0 415.8L49.0 418.4L49.0 421.1L49.0 423.8L49.0 426.4L49.0 429.1L49.0 431.8L49.0 434.4L49.0 437.1L49.0 439.8L49.0 442.4L49.0 445.1L49.0 447.7L49.0 450.4L49.0 453.1L49.0 455.7L49.0 458.4L49.0 461.1L49.0 463.7L49.0 466.4L49.0 469.1L49.0 471.7L49.0 474.4L49.0 477.1L49.0 479.7L49.0 482.4L49.0 485.1L49.0 487.7L49.0 490.4L49.0 493.0L49.0 495.7L49.0 498.4L49.0 501.0L49.0 503.7L49.0 506.4L49.0 509.0L49.0 511.7L49.0 514.4L49.0 517.0L49.0 519.7L49.0 522.4L49.0 525.0L49.0 527.7L49.0 530.4L49.0 533.0L49.0 535.7L49.0 538.4L49.0 541.0L49.0 543.7L49.0 546.4L49.0 549.0L49.0 551.7L49.0 554.3L49.0 557.0L49.0 559.7L49.0 562.3L49.0 565.0L49.0 567.7L49.0 570.3L49.0 573.0L49.0 575.7L49.0 578.3L49.0 581.0L49.0 583.7L49.0 586.3L49.0 589.0L49.0 591.7L49.0 594.3L49.0 597.0L49.0 599.6L49.0 602.3L49.0 605.0L49.0 607.6L49.0 610.3L49.0 613.0L49.0 615.6L49.0 618.3L49.0 621.0L49.0 623.6L49.0 626.3Z"/>
<path fill="#FFB366" fill-rule="evenodd" d="M49.0 626.3L53.8 626.3L58.6 626.3L63.4 626.3L68.2 626.3L73.0 626.3L77.8 626.3L82.6 626.3L87.4 626.3L92.2 626.3L97.0 626.3L101.8 626.3L106.6 626.3L111.4 626.3L116.2 626.3L121.0 626.3L125.8 626.3L130.7 626.3L135.5 626.3L140.3 626.3L145.1 626.3L149.9 626.3L154.7 626.3L159.5 626.3L164.3 626.3L169.1 626.3L173.9 626.3L178.7 626.3L183.5 626.3L188.3 626.3L193.1 626.3L197.9 626.3L202.7 626.3L207.5 626.3L212.3 626.3L217.1 626.3L221.9 626.3L226.7 626.3L231.5 626.3L236.3 626.3L241.1 626.3L245.9 626.3L250.7 626.3L255.5 626.3L260.3 626.3L265.1 626.3L269.9 626.3L274.7 626.3L279.5 626.3L284.3 626.3L289.1 626.3L294.0 626.3L298.8 626.3L303.6 626.3L308.4 626.3L313.2 626.3L318.0 626.3L322.8 626.3L327.6 626.3L332.4 626.3L337.2 626.3L342.0 626.3L346.8 626.3L351.6 626.3L356.4 626.3L361.2 626.3L366.0 626.3L370.8 626.3L375.6 626.3L380.4 626.3L385.2 626.3L390.0 626.3L394.8 626.3L399.6 626.3L404.4 626.3L409.2 626.3L414.0 626.3L418.8 626.3L423.6 626.3L428.4 626.3L433.2 626.3L438.0 626.3L442.8 626.3L447.6 626.3L452.5 626.3L457.3 626.3L462.1 626.3L466.9 626.3L471.7 626.3L476.5 626.3L481.3 626.3L486.1 626.3L490.9 626.3L495.7 626.3L500.5 626.3L505.3 626.3L510.1 626.3L514.9 626.3L519.7 626.3L524.5 626.3L529.3 626.3L531.2 626.3L529.3 625.2L526.4 623.6L526.4 621.0L526.4 618.3L526.4 615.6L526.4 613.0L526.4 610.3L526.4 607.6L526.4 605.0L526.4 602.3L526.4 599.6L526.5 597.0L526.5 594.3L526.5 591.7L526.5 589.0L524.5 587.9L521.7 586.3L521.7 583.7L521.7 581.0L521.8 578.3L521.8 575.7L519.7 574.5L517.0 573.0L517.0 570.3L517.0 567.7L517.1 565.0L517.1 562.3L514.9 561.1L512.3 559.7L512.3 557.0L512.3 554.3L512.4 551.7L510.1 550.4L507.6 549.0L507.6 546.4L507.6 543.7L505.3 542.4L502.8 541.0L502.9 538.4L502.9 535.7L500.5 534.4L498.1 533.0L498.1 530.4L495.7 529.0L493.3 527.7L493.3 525.0L493.4 522.4L490.9 521.0L488.6 519.7L488.6 517.0L486.1 515.6L483.8 514.4L483.8 511.7L481.3 510.3L479.0 509.0L479.1 506.4L476.5 504.9L474.3 503.7L474.3 501.0L471.7 499.6L469.5 498.4L469.5 495.7L466.9 494.2L464.7 493.0L464.8 490.4L462.1 488.9L460.0 487.7L457.3 486.2L455.2 485.1L455.2 482.4L452.5 480.9L450.4 479.7L447.6 478.2L445.6 477.1L445.6 474.4L442.8 472.8L440.8 471.7L438.0 470.2L436.0 469.1L436.1 466.4L433.2 464.8L431.3 463.7L428.4 462.2L426.5 461.1L423.6 459.5L421.7 458.4L418.8 456.8L416.9 455.7L414.0 454.2L412.1 453.1L412.1 450.4L409.2 448.8L407.3 447.7L404.4 446.2L402.5 445.1L399.6 443.5L397.7 442.4L394.8 440.8L392.9 439.8L390.0 438.2L388.1 437.1L385.2 435.5L383.3 434.4L380.4 432.8L378.5 431.8L375.6 430.2L373.7 429.1L370.8 427.5L368.9 426.4L366.0 424.8L361.2 424.9L359.2 423.8L356.4 422.2L354.4 421.1L351.6 419.5L349.6 418.4L346.8 416.9L344.8 415.8L342.0 414.2L340.0 413.1L337.2 411.5L332.4 411.5L330.4 410.4L327.6 408.9L325.6 407.8L322.8 406.2L318.0 406.2L315.9 405.1L313.2 403.6L311.1 402.4L308.4 400.9L303.6 400.9L301.5 399.8L298.8 398.3L296.7 397.1L294.0 395.6L289.1 395.6L287.0 394.4L284.3 393.0L279.5 393.0L277.4 391.8L274.7 390.3L269.9 390.3L267.7 389.1L265.1 387.7L260.3 387.7L258.1 386.5L255.5 385.0L250.7 385.0L248.5 383.8L245.9 382.4L241.1 382.4L238.8 381.1L236.3 379.7L231.5 379.7L226.7 379.8L224.3 378.5L221.9 377.1L217.1 377.1L214.7 375.8L212.3 374.5L207.5 374.5L202.7 374.5L200.2 373.1L197.9 371.8L193.1 371.8L188.3 371.9L185.8 370.5L183.5 369.2L178.7 369.2L173.9 369.2L169.1 369.2L166.5 367.8L164.3 366.6L159.5 366.6L154.7 366.6L149.9 366.6L145.1 366.6L142.4 365.1L140.3 364.0L135.5 364.0L130.7 364.0L125.8 364.0L121.0 364.0L118.3 362.5L116.2 361.3L111.4 361.4L106.6 361.4L101.8 361.4L97.0 361.4L92.2 361.4L87.4 361.4L82.6 361.4L77.8 361.4L73.0 361.4L68.2 361.4L63.4 361.4L58.6 361.4L53.8 361.4L50.9 359.8L49.0 358.7L49.0 359.8L49.0 362.5L49.0 365.1L49.0 367.8L49.0 370.5L49.0 373.1L49.0 375.8L49.0 378.5L49.0 381.1L49.0 383.8L49.0 386.4L49.0 389.1L49.0 391.8L49.0 394.4L49.0 397.1L49.0 399.8L49.0 402.4L49.0 405.1L49.0 407.8L49.0 410.4L49.0 413.1L49.0 415.8L49.0 418.4L49.0 421.1L49.0 423.8L49.0 426.4L49.0 429.1L49.0 431.8L49.0 434.4L49.0 437.1L49.0 439.8L49.0 442.4L49.0 445.1L49.0 447.7L49.0 450.4L49.0 453.1L49.0 455.7L49.0 458.4L49.0 461.1L49.0 463.7L49.0 466.4L49.0 469.1L49.0 471.7L49.0 474.4L49.0 477.1L49.0 479.7L49.0 482.4L49.0 485.1L49.0 487.7L49.0 490.4L49.0 493.0L49.0 495.7L49.0 498.4L49.0 501.0L49.0 503.7L49.0 506.4L49.0 509.0L49.0 511.7L49.0 514.4L49.0 517.0L49.0 519.7L49.0 522.4L49.0 525.0L49.0 527.7L49.0 530.4L49.0 533.0L49.0 535.7L49.0 538.4L49.0 541.0L49.0 543.7L49.0 546.4L49.0 549.0L49.0 551.7L49.0 554.3L49.0 557.0L49.0 559.7L49.0 562.3L49.0 565.0L49.0 567.7L49.0 570.3L49.0 573.0L49.0 575.7L49.0 578.3L49.0 581.0L49.0 583.7L49.0 586.3L49.0 589.0L49.0 591.7L49.0 594.3L49.0 597.0L49.0 599.6L49.0 602.3L49.0 605.0L49.0 607.6L49.0 610.3L49.0 613.0L49.0 615.6L49.0 618.3L49.0 621.0L49.0 623.6L49.0 626.3Z"/>
<path fill="#FF9933" fill-rule="evenodd" d="M49.0 626.3L53.8 626.3L58.6 626.3L63.4 626.3L68.2 626.3L73.0 626.3L77.8 626.3L82.6 626.3L87.4 626.3L92.2 626.3L97.0 626.3L101.8 626.3L106.6 626.3L111.4 626.3L116.2 626.3L121.0 626.3L125.8 626.3L130.7 626.3L135.5 626.3L140.3 626.3L145.1 626.3L149.9 626.3L154.7 626.3L159.5 626.3L164.3 626.3L169.1 626.3L173.9 626.3L178.7 626.3L183.5 626.3L188.3 626.3L193.1 626.3L197.9 626.3L202.7 626.3L207.5 626.3L212.3 626.3L217.1 626.3L221.9 626.3L226.7 626.3L231.5 626.3L236.3 626.3L241.1 626.3L245.9 626.3L250.7 626.3L255.5 626.3L260.3 626.3L265.1 626.3L269.9 626.3L274.7 626.3L279.5 626.3L284.3 626.3L289.1 626.3L294.0 626.3L298.8 626.3L303.6 626.3L308.4 626.3L313.2 626.3L318.0 626.3L322.8 626.3L327.6 626.3L332.4 626.3L337.2 626.3L342.0 626.3L346.8 626.3L351.6 626.3L356.4 626.3L361.2 626.3L366.0 626.3L370.8 626.3L375.6 626.3L380.4 626.3L385.2 626.3L390.0 626.3L394.8 626.3L399.6 626.3L404.4 626.3L409.2 626.3L414.0 626.3L418.8 626.3L423.6 626.3L428.4 626.3L433.2 626.3L438.0 626.3L442.8 626.3L447.6 626.3L452.5 626.3L457.3 626.3L462.1 626.3L466.9 626.3L471.7 626.3L476.5 626.3L481.3 626.3L486.1 626.3L490.9 626.3L495.7 626.3L500.5 626.3L505.3 626.3L510.1 626.3L514.9 626.3L519.7 626.3L524.5 626.3L529.3 626.3L530.3 626.3L529.3 625.8L525.4 623.6L525.4 621.0L525.4 618.3L525.4 615.6L525.4 613.0L525.4 610.3L525.4 607.6L525.5 605.0L525.5 602.3L525.5 599.6L525.5 597.0L525.5 594.3L525.6 591.7L525.6 589.0L524.5 588.4L520.8 586.3L520.8 583.7L520.8 581.0L520.9 578.3L520.9 575.7L519.7 575.0L516.1 573.0L516.1 570.3L516.1 567.7L516.2 565.0L516.2 562.3L514.9 561.6L511.4 559.7L511.4 557.0L511.5 554.3L511.5 551.7L510.1 550.9L506.7 549.0L506.8 546.4L506.8 543.7L505.3 542.8L502.0 541.0L502.0 538.4L502.1 535.7L500.5 534.8L497.3 533.0L497.3 530.4L495.7 529.4L492.5 527.7L492.6 525.0L492.6 522.4L490.9 521.4L487.8 519.7L487.9 517.0L486.1 516.0L483.1 514.4L483.1 511.7L481.3 510.7L478.3 509.0L478.4 506.4L476.5 505.3L473.5 503.7L473.6 501.0L471.7 500.0L468.8 498.4L468.8 495.7L466.9 494.6L464.0 493.0L464.1 490.4L462.1 489.3L459.3 487.7L457.3 486.6L454.5 485.1L454.5 482.4L452.5 481.2L449.7 479.7L447.6 478.6L444.9 477.1L445.0 474.4L442.8 473.2L440.2 471.7L438.0 470.6L435.4 469.1L435.4 466.4L433.2 465.2L430.6 463.7L428.4 462.5L425.8 461.1L423.6 459.9L421.0 458.4L418.8 457.2L416.2 455.7L414.0 454.5L411.4 453.1L411.4 450.4L409.2 449.2L406.6 447.7L404.4 446.5L401.8 445.1L399.6 443.8L397.0 442.4L394.8 441.2L392.2 439.8L390.0 438.5L387.4 437.1L385.2 435.9L382.6 434.4L380.4 433.2L377.8 431.8L375.6 430.5L373.0 429.1L370.8 427.9L368.2 426.4L366.0 425.2L361.2 425.2L358.6 423.8L356.4 422.6L353.8 421.1L351.6 419.9L349.0 418.4L346.8 417.2L344.2 415.8L342.0 414.6L339.4 413.1L337.2 411.9L332.4 411.9L329.7 410.4L327.6 409.3L324.9 407.8L322.8 406.6L318.0 406.6L315.2 405.1L313.2 404.0L310.4 402.4L308.4 401.3L303.6 401.3L300.8 399.8L298.8 398.6L296.0 397.1L294.0 396.0L289.1 396.0L286.3 394.4L284.3 393.3L279.5 393.4L276.7 391.8L274.7 390.7L269.9 390.7L267.0 389.1L265.1 388.1L260.3 388.1L257.4 386.4L255.5 385.4L250.7 385.5L247.7 383.8L245.9 382.8L241.1 382.8L238.1 381.1L236.3 380.2L231.5 380.2L226.7 380.2L223.6 378.5L221.9 377.5L217.1 377.6L213.9 375.8L212.3 374.9L207.5 374.9L202.7 374.9L199.4 373.1L197.9 372.3L193.1 372.3L188.3 372.3L184.9 370.5L183.5 369.7L178.7 369.7L173.9 369.7L169.1 369.7L165.6 367.8L164.3 367.1L159.5 367.1L154.7 367.1L149.9 367.1L145.1 367.1L141.5 365.1L140.3 364.5L135.5 364.5L130.7 364.5L125.8 364.5L121.0 364.5L117.3 362.5L116.2 361.9L111.4 361.9L106.6 361.9L101.8 361.9L97.0 361.9L92.2 361.9L87.4 361.9L82.6 361.9L77.8 361.9L73.0 362.0L68.2 362.0L63.4 362.0L58.6 362.0L53.8 362.0L50.0 359.8L49.0 359.3L49.0 359.8L49.0 362.5L49.0 365.1L49.0 367.8L49.0 370.5L49.0 373.1L49.0 375.8L49.0 378.5L49.0 381.1L49.0 383.8L49.0 386.4L49.0 389.1L49.0 391.8L49.0 394.4L49.0 397.1L49.0 399.8L49.0 402.4L49.0 405.1L49.0 407.8L49.0 410.4L49.0 413.1L49.0 415.8L49.0 418.4L49.0 421.1L49.0 423.8L49.0 426.4L49.0 429.1L49.0 431.8L49.0 434.4L49.0 437.1L49.0 439.8L49.0 442.4L49.0 445.1L49.0 447.7L49.0 450.4L49.0 453.1L49.0 455.7L49.0 458.4L49.0 461.1L49.0 463.7L49.0 466.4L49.0 469.1L49.0 471.7L49.0 474.4L49.0 477.1L49.0 479.7L49.0 482.4L49.0 485.1L49.0 487.7L49.0 490.4L49.0 493.0L49.0 495.7L49.0 498.4L49.0 501.0L49.0 503.7L49.0 506.4L49.0 509.0L49.0 511.7L49.0 514.4L49.0 517.0L49.0 519.7L49.0 522.4L49.0 525.0L49.0 527.7L49.0 530.4L49.0 533.0L49.0 535.7L49.0 538.4L49.0 541.0L49.0 543.7L49.0 546.4L49.0 549.0L49.0 551.7L49.0 554.3L49.0 557.0L49.0 559.7L49.0 562.3L49.0 565.0L49.0 567.7L49.0 570.3L49.0 573.0L49.0 575.7L49.0 578.3L49.0 581.0L49.0 583.7L49.0 586.3L49.0 589.0L49.0 591.7L49.0 594.3L49.0 597.0L49.0 599.6L49.0 602.3L49.0 605.0L49.0 607.6L49.0 610.3L49.0 613.0L49.0 615.6L49.0 618.3L49.0 621.0L49.0 623.6L49.0 626.3Z"/>
<path fill="#FF8000" fill-rule="evenodd" d="M49.0 626.3L53.8 626.3L58.6 626.3L63.4 626.3L68.2 626.3L73.0 626.3L77.8 626.3L82.6 626.3L87.4 626.3L92.2 626.3L97.0 626.3L101.8 626.3L106.6 626.3L111.4 626.3L116.2 626.3L121.0 626.3L125.8 626.3L130.7 626.3L135.5 626.3L140.3 626.3L145.1 626.3L149.9 626.3L154.7 626.3L159.5 626.3L164.3 626.3L169.1 626.3L173.9 626.3L178.7 626.3L183.5 626.3L188.3 626.3L193.1 626.3L197.9 626.3L202.7 626.3L207.5 626.3L212.3 626.3L217.1 626.3L221.9 626.3L226.7 626.3L231.5 626.3L236.3 626.3L241.1 626.3L245.9 626.3L250.7 626.3L255.5 626.3L260.3 626.3L265.1 626.3L269.9 626.3L274.7 626.3L279.5 626.3L284.3 626.3L289.1 626.3L294.0 626.3L298.8 626.3L303.6 626.3L308.4 626.3L313.2 626.3L318.0 626.3L322.8 626.3L326.4 626.3L326.4 623.6L326.4 621.0L326.4 618.3L326.4 615.6L326.4 613.0L326.4 610.3L326.1 607.6L325.6 605.0L325.6 602.3L325.2 599.6L325.2 597.0L324.8 594.3L324.2 591.7L324.2 589.0L323.3 586.3L323.3 583.7L322.8 582.3L322.4 581.0L322.3 578.3L321.3 575.7L321.3 573.0L320.4 570.3L319.8 567.7L319.4 565.0L318.6 562.3L318.4 559.7L318.0 558.3L317.4 557.0L316.2 554.3L316.2 551.7L315.0 549.0L314.0 546.4L313.8 543.7L313.2 542.4L312.4 541.0L311.4 538.4L310.8 535.7L309.6 533.0L309.2 530.4L308.4 529.0L307.6 527.7L307.2 525.0L304.8 522.4L304.8 519.7L303.6 518.4L302.4 517.0L302.4 514.4L301.2 511.7L301.2 509.0L301.2 506.4L298.8 505.0L296.4 503.7L296.4 501.0L298.8 499.7L301.2 498.4L303.6 497.0L306.0 498.4L308.4 499.7L313.2 499.7L318.0 499.7L322.8 500.4L325.2 501.0L327.6 501.7L332.4 503.0L334.8 503.7L337.2 504.4L342.0 505.0L346.8 505.9L349.2 506.4L351.6 507.0L356.4 508.6L358.8 509.0L361.2 509.5L366.0 511.3L368.4 511.7L370.8 512.1L375.6 513.9L376.8 514.4L380.4 515.4L385.2 516.7L386.4 517.0L390.0 518.0L394.0 519.7L394.8 520.0L399.6 521.4L402.0 522.4L404.4 523.2L409.2 524.8L410.0 525.0L414.0 526.4L417.0 527.7L418.8 528.5L423.6 530.1L424.2 530.4L428.4 532.2L430.2 533.0L433.2 534.4L436.2 535.7L438.0 536.4L442.4 538.4L442.8 538.6L447.6 540.8L448.1 541.0L452.5 543.0L453.9 543.7L457.3 545.6L458.7 546.4L462.1 547.9L464.1 549.0L466.9 550.6L468.9 551.7L471.7 553.5L472.9 554.3L476.5 556.3L477.5 557.0L481.3 559.5L481.6 559.7L485.7 562.3L486.1 562.6L489.2 565.0L490.9 566.3L492.6 567.7L495.7 570.1L496.0 570.3L499.0 573.0L500.5 574.3L502.0 575.7L505.0 578.3L505.3 578.6L507.7 581.0L510.1 583.4L510.4 583.7L512.5 586.3L514.6 589.0L514.9 589.3L516.8 591.7L518.4 594.3L519.7 596.0L520.4 597.0L521.9 599.6L523.2 602.3L524.3 605.0L524.5 605.4L524.5 605.0L524.5 602.3L524.5 599.6L524.6 597.0L524.6 594.3L524.6 591.7L524.7 589.0L524.5 588.9L519.8 586.3L519.9 583.7L519.9 581.0L520.0 578.3L520.0 575.7L519.7 575.5L515.2 573.0L515.2 570.3L515.3 567.7L515.3 565.0L515.4 562.3L514.9 562.1L510.5 559.7L510.6 557.0L510.6 554.3L510.7 551.7L510.1 551.3L505.9 549.0L505.9 546.4L506.0 543.7L505.3 543.3L501.2 541.0L501.2 538.4L501.3 535.7L500.5 535.2L496.5 533.0L496.5 530.4L495.7 529.9L491.7 527.7L491.8 525.0L491.9 522.4L490.9 521.8L487.0 519.7L487.1 517.0L486.1 516.5L482.3 514.4L482.4 511.7L481.3 511.1L477.6 509.0L477.6 506.4L476.5 505.7L472.8 503.7L472.9 501.0L471.7 500.4L468.1 498.4L468.1 495.7L466.9 495.0L463.3 493.0L463.4 490.4L462.1 489.6L458.6 487.7L457.3 487.0L453.8 485.1L453.8 482.4L452.5 481.6L449.0 479.7L447.6 479.0L444.2 477.1L444.3 474.4L442.8 473.6L439.5 471.7L438.0 470.9L434.7 469.1L434.8 466.4L433.2 465.6L430.0 463.7L428.4 462.9L425.1 461.1L423.6 460.2L420.3 458.4L418.8 457.6L415.5 455.7L414.0 454.9L410.7 453.1L410.8 450.4L409.2 449.5L406.0 447.7L404.4 446.9L401.2 445.1L399.6 444.2L396.4 442.4L394.8 441.5L391.6 439.8L390.0 438.9L386.8 437.1L385.2 436.2L382.0 434.4L380.4 433.5L377.2 431.8L375.6 430.9L372.4 429.1L370.8 428.2L367.6 426.4L366.0 425.5L361.2 425.6L357.9 423.8L356.4 422.9L353.1 421.1L351.6 420.3L348.3 418.4L346.8 417.6L343.5 415.8L342.0 414.9L338.7 413.1L337.2 412.3L332.4 412.3L329.0 410.4L327.6 409.6L324.2 407.8L322.8 407.0L318.0 407.0L314.6 405.1L313.2 404.3L309.8 402.4L308.4 401.7L303.6 401.7L300.1 399.8L298.8 399.0L295.3 397.1L294.0 396.4L289.1 396.4L285.6 394.4L284.3 393.7L279.5 393.8L276.0 391.8L274.7 391.1L269.9 391.1L266.3 389.1L265.1 388.5L260.3 388.5L256.6 386.4L255.5 385.8L250.7 385.9L247.0 383.8L245.9 383.2L241.1 383.2L237.3 381.1L236.3 380.6L231.5 380.6L226.7 380.6L222.8 378.5L221.9 378.0L217.1 378.0L213.1 375.8L212.3 375.3L207.5 375.4L202.7 375.4L198.6 373.1L197.9 372.7L193.1 372.8L188.3 372.8L184.1 370.5L183.5 370.1L178.7 370.2L173.9 370.2L169.1 370.2L164.7 367.8L164.3 367.5L159.5 367.6L154.7 367.6L149.9 367.6L145.1 367.7L140.6 365.1L140.3 365.0L135.5 365.0L130.7 365.0L125.8 365.0L121.0 365.1L116.4 362.5L116.2 362.4L111.4 362.4L106.6 362.4L101.8 362.4L97.0 362.4L92.2 362.5L87.4 362.5L86.6 362.5L87.4 362.6L92.2 363.2L97.0 363.9L101.8 364.7L103.6 365.1L106.6 365.9L111.4 366.8L115.6 367.8L116.2 367.9L121.0 369.1L125.8 370.3L126.3 370.5L130.7 371.8L135.0 373.1L135.5 373.3L140.3 375.0L142.7 375.8L145.1 376.6L149.9 378.3L150.3 378.5L154.7 380.2L157.1 381.1L159.5 382.1L163.8 383.8L164.3 384.0L169.1 386.3L169.5 386.4L173.9 388.5L175.1 389.1L178.7 391.1L180.1 391.8L183.5 393.3L185.5 394.4L188.3 396.0L190.3 397.1L193.1 399.0L194.5 399.8L197.9 401.6L199.1 402.4L202.7 404.8L203.1 405.1L207.1 407.8L207.5 408.0L211.1 410.4L212.3 411.4L214.7 413.1L217.1 414.8L218.5 415.8L221.9 418.1L222.3 418.4L225.3 421.1L226.7 422.1L229.1 423.8L231.5 426.0L232.0 426.4L234.9 429.1L236.3 430.4L238.1 431.8L240.5 434.4L241.1 434.9L244.1 437.1L245.9 439.1L246.5 439.8L248.9 442.4L250.7 444.4L251.5 445.1L254.7 447.7L255.5 449.1L256.3 450.4L259.5 453.1L260.3 454.4L261.1 455.7L263.9 458.4L265.1 459.7L265.9 461.1L267.5 463.7L268.7 466.4L269.9 467.7L271.1 469.1L273.5 471.7L274.7 473.1L275.9 474.4L277.1 477.1L277.1 479.7L277.1 482.4L279.5 483.7L281.9 485.1L279.5 486.4L277.1 487.7L274.7 489.1L269.9 489.1L267.5 487.7L265.1 486.4L260.3 486.4L255.5 486.4L250.7 485.7L245.9 485.7L243.5 485.1L241.1 484.4L236.3 484.4L231.5 483.1L226.7 482.8L224.3 482.4L221.9 481.9L217.1 481.7L212.3 481.1L207.5 480.7L202.7 480.2L200.3 479.7L197.9 479.4L193.1 479.3L188.3 478.7L183.5 478.1L178.7 478.1L173.9 477.4L171.5 477.1L169.1 476.8L164.3 476.7L159.5 476.3L154.7 476.1L149.9 475.7L145.1 475.2L140.3 475.2L135.5 474.7L130.7 474.6L128.2 474.4L125.8 474.1L121.0 474.1L116.2 473.6L111.4 473.6L106.6 473.3L101.8 473.1L97.0 473.1L92.2 472.8L87.4 472.8L82.6 472.5L77.8 472.4L73.0 472.4L68.2 472.4L63.4 472.4L58.6 472.4L53.8 472.4L49.0 472.4L49.0 474.4L49.0 477.1L49.0 479.7L49.0 482.4L49.0 485.1L49.0 487.7L49.0 490.4L49.0 493.0L49.0 495.7L49.0 498.4L49.0 501.0L49.0 503.7L49.0 506.4L49.0 509.0L49.0 511.7L49.0 514.4L49.0 517.0L49.0 519.7L49.0 522.4L49.0 525.0L49.0 527.7L49.0 530.4L49.0 533.0L49.0 535.7L49.0 538.4L49.0 541.0L49.0 543.7L49.0 546.4L49.0 549.0L49.0 551.7L49.0 554.3L49.0 557.0L49.0 559.7L49.0 562.3L49.0 565.0L49.0 567.7L49.0 570.3L49.0 573.0L49.0 575.7L49.0 578.3L49.0 581.0L49.0 583.7L49.0 586.3L49.0 589.0L49.0 591.7L49.0 594.3L49.0 597.0L49.0 599.6L49.0 602.3L49.0 605.0L49.0 607.6L49.0 610.3L49.0 613.0L49.0 615.6L49.0 618.3L49.0 621.0L49.0 623.6L49.0 626.3ZM529.1 626.3L529.3 626.3L529.3 626.3L529.3 626.3L529.1 626.3ZM49.0 359.8L49.0 359.9L49.0 359.8L49.0 359.8L49.0 359.8Z"/>
<path fill="#DF6000" fill-rule="evenodd" d="M49.0 626.3L53.8 626.3L58.6 626.3L63.4 626.3L68.2 626.3L73.0 626.3L77.8 626.3L82.6 626.3L87.4 626.3L92.2 626.3L97.0 626.3L101.8 626.3L106.6 626.3L111.4 626.3L116.2 626.3L121.0 626.3L125.8 626.3L130.7 626.3L135.5 626.3L140.3 626.3L145.1 626.3L149.9 626.3L154.7 626.3L159.5 626.3L164.3 626.3L169.1 626.3L173.9 626.3L178.7 626.3L183.5 626.3L188.3 626.3L193.1 626.3L197.9 626.3L202.7 626.3L207.5 626.3L212.3 626.3L217.1 626.3L221.9 626.3L226.7 626.3L231.5 626.3L236.3 626.3L241.1 626.3L245.9 626.3L248.7 626.3L248.7 623.6L248.7 621.0L248.3 618.3L247.9 615.6L247.9 613.0L247.1 610.3L246.3 607.6L245.9 606.3L245.5 605.0L244.7 602.3L243.9 599.7L243.1 597.0L242.3 594.3L241.1 592.3L240.7 591.7L239.7 589.0L238.3 586.3L236.7 583.7L236.3 583.0L234.9 581.0L233.0 578.3L231.5 576.3L231.0 575.7L229.1 573.0L227.2 570.3L226.7 569.9L224.3 567.7L221.9 565.4L221.4 565.0L218.9 562.3L217.1 561.0L215.7 559.7L212.8 557.0L212.3 556.6L209.3 554.3L207.5 553.0L205.7 551.7L202.7 550.0L200.9 549.0L197.9 546.8L197.1 546.4L193.1 544.1L192.3 543.7L188.3 542.0L186.5 541.0L183.5 539.4L181.1 538.4L178.7 537.4L174.7 535.7L173.9 535.4L169.1 533.8L166.7 533.0L164.3 532.0L159.5 530.6L158.7 530.4L154.7 529.0L150.7 527.7L149.9 527.4L145.1 526.4L140.3 525.3L139.1 525.0L135.5 524.2L130.7 523.2L127.0 522.4L125.8 522.1L121.0 521.3L116.2 520.5L111.4 519.9L110.2 519.7L106.6 519.0L101.8 518.6L97.0 518.1L92.2 517.7L87.4 517.3L85.0 517.0L82.6 516.8L77.8 516.4L73.0 515.9L68.2 515.9L63.4 515.7L58.6 515.5L53.8 515.5L49.0 515.5L49.0 517.0L49.0 519.7L49.0 522.4L49.0 525.0L49.0 527.7L49.0 530.4L49.0 533.0L49.0 535.7L49.0 538.4L49.0 541.0L49.0 543.7L49.0 546.4L49.0 549.0L49.0 551.7L49.0 554.3L49.0 557.0L49.0 559.7L49.0 562.3L49.0 565.0L49.0 567.7L49.0 570.3L49.0 573.0L49.0 575.7L49.0 578.3L49.0 581.0L49.0 583.7L49.0 586.3L49.0 589.0L49.0 591.7L49.0 594.3L49.0 597.0L49.0 599.6L49.0 602.3L49.0 605.0L49.0 607.6L49.0 610.3L49.0 613.0L49.0 615.6L49.0 618.3L49.0 621.0L49.0 623.6L49.0 626.3ZM499.4 535.7L500.5 536.4L500.5 535.7L500.5 535.7L499.4 535.7ZM495.5 533.0L495.7 533.2L495.7 533.0L495.8 530.4L495.7 530.3L491.5 530.4L495.5 533.0ZM487.2 527.7L490.9 530.0L490.9 527.7L491.0 525.0L491.1 522.4L490.9 522.2L486.3 519.7L486.4 517.0L486.1 516.9L481.5 514.4L481.6 511.7L481.3 511.5L476.8 509.0L476.9 506.4L476.5 506.1L472.1 503.7L472.2 501.0L471.7 500.8L467.4 498.4L467.4 495.7L466.9 495.4L462.6 493.0L462.7 490.4L462.1 490.0L457.9 487.7L457.3 487.4L453.1 485.1L453.2 482.4L452.5 482.0L448.4 479.7L447.6 479.3L443.6 477.1L443.6 474.4L442.8 474.0L438.8 471.7L438.0 471.3L434.0 469.1L434.1 466.4L433.2 465.9L429.3 463.7L428.4 463.3L424.5 461.1L423.6 460.6L419.7 458.4L418.8 457.9L414.9 455.7L414.0 455.3L410.1 453.1L410.2 450.4L409.2 449.9L405.4 447.7L404.4 447.2L400.6 445.1L399.6 444.6L395.7 442.4L394.8 441.9L390.9 439.8L390.0 439.2L386.1 437.1L385.2 436.6L381.3 434.4L380.4 433.9L376.5 431.8L375.6 431.2L371.7 429.1L370.8 428.6L366.9 426.4L366.0 425.9L361.2 425.9L357.3 423.8L356.4 423.3L352.4 421.1L351.6 420.6L347.6 418.4L346.8 418.0L342.8 415.8L342.0 415.3L338.0 413.1L337.2 412.6L332.4 412.7L328.4 410.4L327.6 410.0L323.6 407.8L322.8 407.3L318.0 407.4L313.9 405.1L313.2 404.7L309.1 402.4L308.4 402.0L303.6 402.1L299.4 399.8L298.8 399.4L294.6 397.1L294.0 396.8L289.1 396.8L284.9 394.4L284.3 394.1L279.5 394.2L275.2 391.8L274.7 391.5L269.9 391.5L265.6 389.1L265.1 388.9L260.3 388.9L255.9 386.4L255.5 386.3L250.7 386.3L246.2 383.8L245.9 383.6L241.1 383.7L236.5 381.1L236.3 381.0L231.5 381.0L226.7 381.1L222.6 381.1L226.7 383.2L228.0 383.8L231.5 385.5L233.4 386.4L236.3 387.9L238.5 389.1L241.1 390.4L243.8 391.8L245.9 393.0L248.6 394.4L250.7 395.6L253.7 397.1L255.5 398.1L258.5 399.8L260.3 400.8L263.3 402.4L265.1 403.5L268.1 405.1L269.9 406.1L272.6 407.8L274.7 409.1L277.1 410.4L279.5 411.8L281.9 413.1L284.3 414.6L286.2 415.8L289.1 417.4L291.0 418.4L294.0 420.3L295.3 421.1L298.8 423.3L299.6 423.8L303.6 426.0L304.4 426.4L308.4 428.9L308.6 429.1L313.2 431.6L313.4 431.8L317.7 434.4L318.0 434.6L322.5 437.1L322.8 437.3L326.8 439.8L327.6 440.2L331.5 442.4L332.4 442.9L336.3 445.1L337.2 445.6L340.6 447.7L342.0 448.6L345.3 450.4L346.8 451.2L350.1 453.1L351.6 453.9L354.9 455.7L356.4 456.6L359.7 458.4L361.2 459.2L364.5 461.1L366.0 461.9L369.3 463.7L370.8 464.5L374.7 466.4L375.6 466.9L379.5 469.1L380.4 469.6L384.3 471.7L385.2 472.2L389.7 474.4L390.0 474.6L394.5 477.1L394.8 477.2L399.6 479.6L399.9 479.7L404.4 482.2L404.7 482.4L409.2 484.6L410.0 485.1L414.0 487.3L414.9 487.7L418.8 489.6L420.3 490.4L423.6 492.0L425.5 493.0L428.4 494.7L430.5 495.7L433.2 497.0L435.6 498.4L438.0 499.7L440.4 501.0L442.8 502.2L445.8 503.7L447.6 504.7L450.6 506.4L452.5 507.4L455.4 509.0L457.3 510.1L460.2 511.7L462.1 512.7L464.7 514.4L466.9 515.6L469.5 517.0L471.7 518.2L474.1 519.7L476.5 521.2L478.6 522.4L481.3 524.0L483.0 525.0L486.1 527.0L487.2 527.7ZM216.8 378.5L217.1 378.6L221.9 380.8L222.0 378.5L221.9 378.4L217.1 378.5L216.8 378.5ZM211.0 375.8L212.3 376.4L212.3 375.8L212.3 375.8L211.0 375.8Z"/>
<path fill="#BF4000" fill-rule="evenodd" d="M49.0 626.3L53.8 626.3L58.6 626.3L63.4 626.3L68.2 626.3L73.0 626.3L77.8 626.3L82.6 626.3L87.4 626.3L92.2 626.3L97.0 626.3L101.8 626.3L106.6 626.3L111.4 626.3L116.2 626.3L121.0 626.3L125.8 626.3L130.7 626.3L135.5 626.3L140.3 626.3L145.1 626.3L149.9 626.3L154.7 626.3L158.9 626.3L158.9 623.6L158.9 621.0L158.0 618.3L157.7 615.6L156.5 613.0L155.3 610.3L154.7 609.0L154.1 607.6L152.9 605.0L150.5 602.3L149.9 601.0L149.1 599.6L145.9 597.0L145.1 596.3L143.3 594.3L140.9 591.7L140.3 591.2L137.3 589.0L135.5 587.7L133.1 586.3L130.7 585.0L128.2 583.7L125.8 582.3L123.4 581.0L121.0 579.7L118.6 578.3L116.2 577.3L112.2 575.7L111.4 575.3L106.6 574.0L103.0 573.0L101.8 572.6L97.0 570.8L94.6 570.3L92.2 570.0L87.4 568.7L82.6 568.0L80.2 567.7L77.8 567.3L73.0 566.7L68.2 566.0L63.4 565.8L58.6 565.3L53.8 565.3L49.0 565.3L49.0 567.7L49.0 570.3L49.0 573.0L49.0 575.7L49.0 578.3L49.0 581.0L49.0 583.7L49.0 586.3L49.0 589.0L49.0 591.7L49.0 594.3L49.0 597.0L49.0 599.6L49.0 602.3L49.0 605.0L49.0 607.6L49.0 610.3L49.0 613.0L49.0 615.6L49.0 618.3L49.0 621.0L49.0 623.6L49.0 626.3ZM450.8 482.4L452.5 483.4L452.5 482.4L452.5 482.4L450.8 482.4ZM446.0 479.7L447.6 480.6L447.7 479.7L447.6 479.7L446.0 479.7ZM441.2 477.1L442.8 478.0L442.9 477.1L443.0 474.4L442.8 474.3L438.2 471.7L438.0 471.7L433.4 469.1L433.4 466.4L433.2 466.3L428.6 463.7L428.4 463.6L423.8 461.1L423.6 461.0L419.0 458.4L418.8 458.3L414.2 455.7L414.0 455.6L409.4 453.1L409.5 450.4L409.2 450.3L404.7 447.7L404.4 447.6L399.9 445.1L399.6 444.9L395.1 442.4L394.8 442.3L390.3 439.8L390.0 439.6L385.5 437.1L385.2 436.9L380.7 434.4L380.4 434.3L375.9 431.8L375.6 431.6L371.1 429.1L370.8 428.9L366.3 426.4L366.0 426.3L361.2 426.3L356.6 423.8L356.4 423.6L351.8 421.1L351.6 421.0L347.0 418.4L346.8 418.3L342.2 415.8L342.0 415.7L337.4 413.1L337.2 413.0L332.4 413.0L327.7 410.4L327.6 410.4L322.9 407.8L322.8 407.7L318.0 407.8L316.3 407.8L318.0 408.7L321.1 410.4L322.8 411.4L325.9 413.1L327.6 414.0L330.7 415.8L332.4 416.7L335.5 418.4L337.2 419.4L340.2 421.1L342.0 422.1L345.0 423.8L346.8 424.8L349.8 426.4L351.6 427.4L354.6 429.1L356.4 430.1L359.4 431.8L361.2 432.8L364.2 434.4L366.0 435.4L369.0 437.1L370.8 438.1L373.8 439.8L375.6 440.7L378.6 442.4L380.4 443.4L383.4 445.1L385.2 446.1L388.2 447.7L390.0 448.7L393.0 450.4L394.8 451.4L397.8 453.1L399.6 454.1L402.6 455.7L404.4 456.7L407.4 458.4L409.2 459.4L412.2 461.1L414.0 462.1L417.0 463.7L418.8 464.7L421.8 466.4L423.6 467.3L426.8 469.1L428.4 470.0L431.6 471.7L433.2 472.7L436.4 474.4L438.0 475.3L441.2 477.1ZM311.5 405.1L313.2 406.0L313.2 405.1L313.2 405.1L311.5 405.1ZM306.6 402.4L308.4 403.4L308.4 402.4L308.4 402.4L306.6 402.4Z"/>
<path fill="none" stroke="#000" stroke-width="1.0" stroke-linejoin="round" d="M533.7 626.3L529.3 623.8L528.9 623.6L528.9 621.0L528.9 618.3L528.9 615.6L528.9 613.0L528.9 610.3L528.9 607.6L528.9 605.0L528.9 602.3L528.9 599.6L528.9 597.0L528.9 594.3L528.9 591.7L528.9 589.0L524.5 586.5L524.1 586.3L524.1 583.7L524.1 581.0L524.1 578.3L524.1 575.7L519.7 573.2L519.3 573.0L519.3 570.3L519.3 567.7L519.3 565.0L519.3 562.3L514.9 559.9L514.5 559.7L514.5 557.0L514.6 554.3L514.6 551.7L510.1 549.2L509.8 549.0L509.8 546.4L509.8 543.7L505.3 541.2L505.0 541.0L505.0 538.4L505.0 535.7L500.5 533.2L500.2 533.0L500.2 530.4L495.7 527.9L495.4 527.7L495.4 525.0L495.4 522.4L490.9 519.9L490.6 519.7L490.6 517.0L486.1 514.5L485.8 514.4L485.8 511.7L481.3 509.2L481.0 509.0L481.0 506.4L476.5 503.9L476.2 503.7L476.2 501.0L471.7 498.5L471.4 498.4L471.4 495.7L466.9 493.2L466.6 493.1L466.6 490.4L462.1 487.9L461.8 487.7L457.3 485.2L457.0 485.1L457.0 482.4L452.5 479.9L452.2 479.7L447.6 477.2L447.4 477.1L447.4 474.4L442.8 471.9L442.6 471.7L438.0 469.2L437.8 469.1L437.8 466.4L433.2 463.9L433.0 463.7L428.4 461.2L428.2 461.1L423.6 458.6L423.4 458.4L418.8 455.9L418.6 455.7L414.0 453.2L413.8 453.1L413.8 450.4L409.2 447.9L409.0 447.7L404.4 445.2L404.2 445.1L399.6 442.6L399.4 442.4L394.8 439.9L394.6 439.8L390.0 437.2L389.8 437.1L385.2 434.6L385.0 434.4L380.4 431.9L380.1 431.8L375.6 429.2L375.3 429.1L370.8 426.6L370.5 426.4L366.0 423.9L361.2 423.9L360.9 423.8L356.4 421.2L356.1 421.1L351.6 418.6L351.3 418.4L346.8 415.9L346.5 415.8L342.0 413.2L341.7 413.1L337.2 410.6L332.4 410.6L332.1 410.4L327.6 407.9L327.3 407.8L322.8 405.3L318.0 405.3L317.7 405.1L313.2 402.6L312.9 402.4L308.4 399.9L303.6 399.9L303.3 399.8L298.8 397.3L298.5 397.1L294.0 394.6L289.1 394.6L288.9 394.4L284.3 391.9L279.5 391.9L279.3 391.8L274.7 389.3L269.9 389.3L269.6 389.1L265.1 386.6L260.3 386.6L260.0 386.5L255.5 383.9L250.7 384.0L250.4 383.8L245.9 381.3L241.1 381.3L240.8 381.1L236.3 378.6L231.5 378.6L226.7 378.6L226.4 378.5L221.9 376.0L217.1 376.0L216.8 375.8L212.3 373.3L207.5 373.3L202.7 373.3L202.4 373.1L197.9 370.6L193.1 370.6L188.3 370.6L188.0 370.5L183.5 368.0L178.7 368.0L173.9 368.0L169.1 368.0L168.7 367.8L164.3 365.3L159.5 365.3L154.7 365.3L149.9 365.3L145.1 365.3L144.7 365.1L140.3 362.7L135.5 362.7L130.7 362.7L125.8 362.7L121.0 362.7L120.7 362.5L116.2 360.0L111.4 360.0L106.6 360.0L101.8 360.0L97.0 360.0L92.2 360.0L87.4 360.0L82.6 360.0L77.8 360.0L73.0 360.0L68.2 360.0L63.4 360.0L58.6 360.0L53.8 360.0L53.4 359.8L49.0 357.3M533.1 626.3L529.3 624.2L528.3 623.6L528.3 621.0L528.3 618.3L528.3 615.6L528.3 613.0L528.3 610.3L528.3 607.6L528.3 605.0L528.3 602.3L528.3 599.6L528.4 597.0L528.4 594.3L528.4 591.7L528.4 589.0L524.5 586.8L523.6 586.3L523.6 583.7L523.6 581.0L523.6 578.3L523.6 575.7L519.7 573.5L518.8 573.0L518.8 570.3L518.8 567.7L518.8 565.0L518.8 562.3L514.9 560.2L514.0 559.7L514.0 557.0L514.0 554.3L514.1 551.7L510.1 549.5L509.2 549.0L509.3 546.4L509.3 543.7L505.3 541.5L504.5 541.0L504.5 538.4L504.5 535.7L500.5 533.5L499.7 533.0L499.7 530.4L495.7 528.1L494.9 527.7L494.9 525.0L494.9 522.4L490.9 520.1L490.1 519.7L490.1 517.0L486.1 514.8L485.3 514.4L485.3 511.7L481.3 509.5L480.5 509.0L480.5 506.4L476.5 504.1L475.7 503.7L475.7 501.0L471.7 498.8L470.9 498.4L471.0 495.7L466.9 493.4L466.2 493.0L466.2 490.4L462.1 488.1L461.4 487.7L457.3 485.4L456.6 485.1L456.6 482.4L452.5 480.1L451.8 479.7L447.6 477.4L447.0 477.1L447.0 474.4L442.8 472.1L442.2 471.7L438.0 469.4L437.4 469.1L437.4 466.4L433.2 464.1L432.6 463.7L428.4 461.4L427.8 461.1L423.6 458.8L423.0 458.4L418.8 456.1L418.2 455.7L414.0 453.4L413.4 453.1L413.4 450.4L409.2 448.1L408.6 447.7L404.4 445.4L403.8 445.1L399.6 442.8L399.0 442.4L394.8 440.1L394.2 439.8L390.0 437.4L389.4 437.1L385.2 434.8L384.6 434.4L380.4 432.1L379.8 431.8L375.6 429.4L375.0 429.1L370.8 426.8L370.2 426.4L366.0 424.1L361.2 424.1L360.5 423.8L356.4 421.5L355.7 421.1L351.6 418.8L350.9 418.4L346.8 416.1L346.1 415.8L342.0 413.5L341.3 413.1L337.2 410.8L332.4 410.8L331.7 410.4L327.6 408.1L326.9 407.8L322.8 405.5L318.0 405.5L317.3 405.1L313.2 402.8L312.5 402.4L308.4 400.2L303.6 400.2L302.9 399.8L298.8 397.5L298.1 397.1L294.0 394.8L289.1 394.8L288.4 394.4L284.3 392.2L279.5 392.2L278.8 391.8L274.7 389.5L269.9 389.5L269.2 389.1L265.1 386.9L260.3 386.9L259.6 386.4L255.5 384.2L250.7 384.2L250.0 383.8L245.9 381.5L241.1 381.5L240.4 381.1L236.3 378.9L231.5 378.9L226.7 378.9L225.9 378.5L221.9 376.2L217.1 376.2L216.3 375.8L212.3 373.6L207.5 373.6L202.7 373.6L201.9 373.1L197.9 370.9L193.1 370.9L188.3 370.9L187.4 370.5L183.5 368.3L178.7 368.3L173.9 368.3L169.1 368.3L168.2 367.8L164.3 365.6L159.5 365.6L154.7 365.6L149.9 365.6L145.1 365.6L144.2 365.1L140.3 363.0L135.5 363.0L130.7 363.0L125.8 363.0L121.0 363.0L120.1 362.5L116.2 360.3L111.4 360.3L106.6 360.3L101.8 360.3L97.0 360.3L92.2 360.3L87.4 360.3L82.6 360.3L77.8 360.3L73.0 360.3L68.2 360.3L63.4 360.3L58.6 360.3L53.8 360.3L52.8 359.8L49.0 357.7M532.2 626.3L529.3 624.7L527.3 623.6L527.3 621.0L527.3 618.3L527.4 615.6L527.4 613.0L527.4 610.3L527.4 607.6L527.4 605.0L527.4 602.3L527.4 599.6L527.4 597.0L527.4 594.3L527.4 591.7L527.5 589.0L524.5 587.4L522.6 586.3L522.6 583.7L522.7 581.0L522.7 578.3L522.7 575.7L519.7 574.0L517.9 573.0L517.9 570.3L517.9 567.7L517.9 565.0L518.0 562.3L514.9 560.6L513.1 559.7L513.2 557.0L513.2 554.3L513.2 551.7L510.1 549.9L508.4 549.0L508.4 546.4L508.5 543.7L505.3 541.9L503.6 541.0L503.7 538.4L503.7 535.7L500.5 533.9L498.9 533.0L498.9 530.4L495.7 528.6L494.1 527.7L494.1 525.0L494.2 522.4L490.9 520.5L489.3 519.7L489.4 517.0L486.1 515.2L484.6 514.4L484.6 511.7L481.3 509.9L479.8 509.0L479.8 506.4L476.5 504.5L475.0 503.7L475.0 501.0L471.7 499.2L470.2 498.4L470.3 495.7L466.9 493.8L465.4 493.0L465.5 490.4L462.1 488.5L460.7 487.7L457.3 485.8L455.9 485.1L455.9 482.4L452.5 480.5L451.1 479.7L447.6 477.8L446.3 477.1L446.3 474.4L442.8 472.5L441.5 471.7L438.0 469.8L436.7 469.1L436.7 466.4L433.2 464.5L431.9 463.7L428.4 461.8L427.1 461.1L423.6 459.1L422.3 458.4L418.8 456.5L417.5 455.7L414.0 453.8L412.7 453.1L412.7 450.4L409.2 448.5L407.9 447.7L404.4 445.8L403.1 445.1L399.6 443.1L398.3 442.4L394.8 440.5L393.5 439.8L390.0 437.8L388.7 437.1L385.2 435.1L383.9 434.4L380.4 432.5L379.1 431.8L375.6 429.8L374.3 429.1L370.8 427.1L369.5 426.4L366.0 424.5L361.2 424.5L359.9 423.8L356.4 421.8L355.1 421.1L351.6 419.2L350.3 418.4L346.8 416.5L345.5 415.8L342.0 413.8L340.7 413.1L337.2 411.2L332.4 411.2L331.0 410.4L327.6 408.5L326.2 407.8L322.8 405.8L318.0 405.9L316.6 405.1L313.2 403.2L311.8 402.4L308.4 400.5L303.6 400.5L302.2 399.8L298.8 397.9L297.4 397.1L294.0 395.2L289.1 395.2L287.7 394.4L284.3 392.6L279.5 392.6L278.1 391.8L274.7 389.9L269.9 389.9L268.5 389.1L265.1 387.3L260.3 387.3L258.8 386.4L255.5 384.6L250.7 384.6L249.2 383.8L245.9 382.0L241.1 382.0L239.6 381.1L236.3 379.3L231.5 379.3L226.7 379.3L225.1 378.5L221.9 376.7L217.1 376.7L215.5 375.8L212.3 374.0L207.5 374.0L202.7 374.0L201.1 373.1L197.9 371.4L193.1 371.4L188.3 371.4L186.6 370.5L183.5 368.7L178.7 368.7L173.9 368.8L169.1 368.8L167.3 367.8L164.3 366.1L159.5 366.1L154.7 366.1L149.9 366.1L145.1 366.1L143.3 365.1L140.3 363.5L135.5 363.5L130.7 363.5L125.8 363.5L121.0 363.5L119.2 362.5L116.2 360.8L111.4 360.8L106.6 360.8L101.8 360.8L97.0 360.9L92.2 360.9L87.4 360.9L82.6 360.9L77.8 360.9L73.0 360.9L68.2 360.9L63.4 360.9L58.6 360.9L53.8 360.9L51.9 359.8L49.0 358.2M531.2 626.3L529.3 625.2L526.4 623.6L526.4 621.0L526.4 618.3L526.4 615.6L526.4 613.0L526.4 610.3L526.4 607.6L526.4 605.0L526.4 602.3L526.4 599.6L526.5 597.0L526.5 594.3L526.5 591.7L526.5 589.0L524.5 587.9L521.7 586.3L521.7 583.7L521.7 581.0L521.8 578.3L521.8 575.7L519.7 574.5L517.0 573.0L517.0 570.3L517.0 567.7L517.1 565.0L517.1 562.3L514.9 561.1L512.3 559.7L512.3 557.0L512.3 554.3L512.4 551.7L510.1 550.4L507.6 549.0L507.6 546.4L507.6 543.7L505.3 542.4L502.8 541.0L502.9 538.4L502.9 535.7L500.5 534.4L498.1 533.0L498.1 530.4L495.7 529.0L493.3 527.7L493.3 525.0L493.4 522.4L490.9 521.0L488.6 519.7L488.6 517.0L486.1 515.6L483.8 514.4L483.8 511.7L481.3 510.3L479.0 509.0L479.1 506.4L476.5 504.9L474.3 503.7L474.3 501.0L471.7 499.6L469.5 498.4L469.5 495.7L466.9 494.2L464.7 493.0L464.8 490.4L462.1 488.9L460.0 487.7L457.3 486.2L455.2 485.1L455.2 482.4L452.5 480.9L450.4 479.7L447.6 478.2L445.6 477.1L445.6 474.4L442.8 472.8L440.8 471.7L438.0 470.2L436.0 469.1L436.1 466.4L433.2 464.8L431.3 463.7L428.4 462.2L426.5 461.1L423.6 459.5L421.7 458.4L418.8 456.8L416.9 455.7L414.0 454.2L412.1 453.1L412.1 450.4L409.2 448.8L407.3 447.7L404.4 446.2L402.5 445.1L399.6 443.5L397.7 442.4L394.8 440.8L392.9 439.8L390.0 438.2L388.1 437.1L385.2 435.5L383.3 434.4L380.4 432.8L378.5 431.8L375.6 430.2L373.7 429.1L370.8 427.5L368.9 426.4L366.0 424.8L361.2 424.9L359.2 423.8L356.4 422.2L354.4 421.1L351.6 419.5L349.6 418.4L346.8 416.9L344.8 415.8L342.0 414.2L340.0 413.1L337.2 411.5L332.4 411.5L330.4 410.4L327.6 408.9L325.6 407.8L322.8 406.2L318.0 406.2L315.9 405.1L313.2 403.6L311.1 402.4L308.4 400.9L303.6 400.9L301.5 399.8L298.8 398.3L296.7 397.1L294.0 395.6L289.1 395.6L287.0 394.4L284.3 393.0L279.5 393.0L277.4 391.8L274.7 390.3L269.9 390.3L267.7 389.1L265.1 387.7L260.3 387.7L258.1 386.5L255.5 385.0L250.7 385.0L248.5 383.8L245.9 382.4L241.1 382.4L238.8 381.1L236.3 379.7L231.5 379.7L226.7 379.8L224.3 378.5L221.9 377.1L217.1 377.1L214.7 375.8L212.3 374.5L207.5 374.5L202.7 374.5L200.2 373.1L197.9 371.8L193.1 371.8L188.3 371.9L185.8 370.5L183.5 369.2L178.7 369.2L173.9 369.2L169.1 369.2L166.5 367.8L164.3 366.6L159.5 366.6L154.7 366.6L149.9 366.6L145.1 366.6L142.4 365.1L140.3 364.0L135.5 364.0L130.7 364.0L125.8 364.0L121.0 364.0L118.3 362.5L116.2 361.3L111.4 361.4L106.6 361.4L101.8 361.4L97.0 361.4L92.2 361.4L87.4 361.4L82.6 361.4L77.8 361.4L73.0 361.4L68.2 361.4L63.4 361.4L58.6 361.4L53.8 361.4L50.9 359.8L49.0 358.7M530.3 626.3L529.3 625.8L525.4 623.6L525.4 621.0L525.4 618.3L525.4 615.6L525.4 613.0L525.4 610.3L525.4 607.6L525.5 605.0L525.5 602.3L525.5 599.6L525.5 597.0L525.5 594.3L525.6 591.7L525.6 589.0L524.5 588.4L520.8 586.3L520.8 583.7L520.8 581.0L520.9 578.3L520.9 575.7L519.7 575.0L516.1 573.0L516.1 570.3L516.1 567.7L516.2 565.0L516.2 562.3L514.9 561.6L511.4 559.7L511.4 557.0L511.5 554.3L511.5 551.7L510.1 550.9L506.7 549.0L506.8 546.4L506.8 543.7L505.3 542.8L502.0 541.0L502.0 538.4L502.1 535.7L500.5 534.8L497.3 533.0L497.3 530.4L495.7 529.4L492.5 527.7L492.6 525.0L492.6 522.4L490.9 521.4L487.8 519.7L487.9 517.0L486.1 516.0L483.1 514.4L483.1 511.7L481.3 510.7L478.3 509.0L478.4 506.4L476.5 505.3L473.5 503.7L473.6 501.0L471.7 500.0L468.8 498.4L468.8 495.7L466.9 494.6L464.0 493.0L464.1 490.4L462.1 489.3L459.3 487.7L457.3 486.6L454.5 485.1L454.5 482.4L452.5 481.2L449.7 479.7L447.6 478.6L444.9 477.1L445.0 474.4L442.8 473.2L440.2 471.7L438.0 470.6L435.4 469.1L435.4 466.4L433.2 465.2L430.6 463.7L428.4 462.5L425.8 461.1L423.6 459.9L421.0 458.4L418.8 457.2L416.2 455.7L414.0 454.5L411.4 453.1L411.4 450.4L409.2 449.2L406.6 447.7L404.4 446.5L401.8 445.1L399.6 443.8L397.0 442.4L394.8 441.2L392.2 439.8L390.0 438.5L387.4 437.1L385.2 435.9L382.6 434.4L380.4 433.2L377.8 431.8L375.6 430.5L373.0 429.1L370.8 427.9L368.2 426.4L366.0 425.2L361.2 425.2L358.6 423.8L356.4 422.6L353.8 421.1L351.6 419.9L349.0 418.4L346.8 417.2L344.2 415.8L342.0 414.6L339.4 413.1L337.2 411.9L332.4 411.9L329.7 410.4L327.6 409.3L324.9 407.8L322.8 406.6L318.0 406.6L315.2 405.1L313.2 404.0L310.4 402.4L308.4 401.3L303.6 401.3L300.8 399.8L298.8 398.6L296.0 397.1L294.0 396.0L289.1 396.0L286.3 394.4L284.3 393.3L279.5 393.4L276.7 391.8L274.7 390.7L269.9 390.7L267.0 389.1L265.1 388.1L260.3 388.1L257.4 386.4L255.5 385.4L250.7 385.5L247.7 383.8L245.9 382.8L241.1 382.8L238.1 381.1L236.3 380.2L231.5 380.2L226.7 380.2L223.6 378.5L221.9 377.5L217.1 377.6L213.9 375.8L212.3 374.9L207.5 374.9L202.7 374.9L199.4 373.1L197.9 372.3L193.1 372.3L188.3 372.3L184.9 370.5L183.5 369.7L178.7 369.7L173.9 369.7L169.1 369.7L165.6 367.8L164.3 367.1L159.5 367.1L154.7 367.1L149.9 367.1L145.1 367.1L141.5 365.1L140.3 364.5L135.5 364.5L130.7 364.5L125.8 364.5L121.0 364.5L117.3 362.5L116.2 361.9L111.4 361.9L106.6 361.9L101.8 361.9L97.0 361.9L92.2 361.9L87.4 361.9L82.6 361.9L77.8 361.9L73.0 362.0L68.2 362.0L63.4 362.0L58.6 362.0L53.8 362.0L50.0 359.8L49.0 359.3"/>
<path fill="none" stroke="#000" stroke-width="1.15" stroke-linejoin="round" d="M326.4 626.3L326.4 623.6L326.4 621.0L326.4 618.3L326.4 615.6L326.4 613.0L326.4 610.3L326.1 607.6L325.6 605.0L325.6 602.3L325.2 599.6L325.2 597.0L324.8 594.3L324.2 591.7L324.2 589.0L323.3 586.3L323.3 583.7L322.8 582.3L322.4 581.0L322.3 578.3L321.3 575.7L321.3 573.0L320.4 570.3L319.8 567.7L319.4 565.0L318.6 562.3L318.4 559.7L318.0 558.3L317.4 557.0L316.2 554.3L316.2 551.7L315.0 549.0L314.0 546.4L313.8 543.7L313.2 542.4L312.4 541.0L311.4 538.4L310.8 535.7L309.6 533.0L309.2 530.4L308.4 529.0L307.6 527.7L307.2 525.0L304.8 522.4L304.8 519.7L303.6 518.4L302.4 517.0L302.4 514.4L301.2 511.7L301.2 509.0L301.2 506.4L298.8 505.0L296.4 503.7L296.4 501.0L298.8 499.7L301.2 498.4L303.6 497.0L306.0 498.4L308.4 499.7L313.2 499.7L318.0 499.7L322.8 500.4L325.2 501.0L327.6 501.7L332.4 503.0L334.8 503.7L337.2 504.4L342.0 505.0L346.8 505.9L349.2 506.4L351.6 507.0L356.4 508.6L358.8 509.0L361.2 509.5L366.0 511.3L368.4 511.7L370.8 512.1L375.6 513.9L376.8 514.4L380.4 515.4L385.2 516.7L386.4 517.0L390.0 518.0L394.0 519.7L394.8 520.0L399.6 521.4L402.0 522.4L404.4 523.2L409.2 524.8L410.0 525.0L414.0 526.4L417.0 527.7L418.8 528.5L423.6 530.1L424.2 530.4L428.4 532.2L430.2 533.0L433.2 534.4L436.2 535.7L438.0 536.4L442.4 538.4L442.8 538.6L447.6 540.8L448.1 541.0L452.5 543.0L453.9 543.7L457.3 545.6L458.7 546.4L462.1 547.9L464.1 549.0L466.9 550.6L468.9 551.7L471.7 553.5L472.9 554.3L476.5 556.3L477.5 557.0L481.3 559.5L481.6 559.7L485.7 562.3L486.1 562.6L489.2 565.0L490.9 566.3L492.6 567.7L495.7 570.1L496.0 570.3L499.0 573.0L500.5 574.3L502.0 575.7L505.0 578.3L505.3 578.6L507.7 581.0L510.1 583.4L510.4 583.7L512.5 586.3L514.6 589.0L514.9 589.3L516.8 591.7L518.4 594.3L519.7 596.0L520.4 597.0L521.9 599.6L523.2 602.3L524.3 605.0L524.5 605.4L524.5 605.0L524.5 602.3L524.5 599.6L524.6 597.0L524.6 594.3L524.6 591.7L524.7 589.0L524.5 588.9L519.8 586.3L519.9 583.7L519.9 581.0L520.0 578.3L520.0 575.7L519.7 575.5L515.2 573.0L515.2 570.3L515.3 567.7L515.3 565.0L515.4 562.3L514.9 562.1L510.5 559.7L510.6 557.0L510.6 554.3L510.7 551.7L510.1 551.3L505.9 549.0L505.9 546.4L506.0 543.7L505.3 543.3L501.2 541.0L501.2 538.4L501.3 535.7L500.5 535.2L496.5 533.0L496.5 530.4L495.7 529.9L491.7 527.7L491.8 525.0L491.9 522.4L490.9 521.8L487.0 519.7L487.1 517.0L486.1 516.5L482.3 514.4L482.4 511.7L481.3 511.1L477.6 509.0L477.6 506.4L476.5 505.7L472.8 503.7L472.9 501.0L471.7 500.4L468.1 498.4L468.1 495.7L466.9 495.0L463.3 493.0L463.4 490.4L462.1 489.6L458.6 487.7L457.3 487.0L453.8 485.1L453.8 482.4L452.5 481.6L449.0 479.7L447.6 479.0L444.2 477.1L444.3 474.4L442.8 473.6L439.5 471.7L438.0 470.9L434.7 469.1L434.8 466.4L433.2 465.6L430.0 463.7L428.4 462.9L425.1 461.1L423.6 460.2L420.3 458.4L418.8 457.6L415.5 455.7L414.0 454.9L410.7 453.1L410.8 450.4L409.2 449.5L406.0 447.7L404.4 446.9L401.2 445.1L399.6 444.2L396.4 442.4L394.8 441.5L391.6 439.8L390.0 438.9L386.8 437.1L385.2 436.2L382.0 434.4L380.4 433.5L377.2 431.8L375.6 430.9L372.4 429.1L370.8 428.2L367.6 426.4L366.0 425.5L361.2 425.6L357.9 423.8L356.4 422.9L353.1 421.1L351.6 420.3L348.3 418.4L346.8 417.6L343.5 415.8L342.0 414.9L338.7 413.1L337.2 412.3L332.4 412.3L329.0 410.4L327.6 409.6L324.2 407.8L322.8 407.0L318.0 407.0L314.6 405.1L313.2 404.3L309.8 402.4L308.4 401.7L303.6 401.7L300.1 399.8L298.8 399.0L295.3 397.1L294.0 396.4L289.1 396.4L285.6 394.4L284.3 393.7L279.5 393.8L276.0 391.8L274.7 391.1L269.9 391.1L266.3 389.1L265.1 388.5L260.3 388.5L256.6 386.4L255.5 385.8L250.7 385.9L247.0 383.8L245.9 383.2L241.1 383.2L237.3 381.1L236.3 380.6L231.5 380.6L226.7 380.6L222.8 378.5L221.9 378.0L217.1 378.0L213.1 375.8L212.3 375.3L207.5 375.4L202.7 375.4L198.6 373.1L197.9 372.7L193.1 372.8L188.3 372.8L184.1 370.5L183.5 370.1L178.7 370.2L173.9 370.2L169.1 370.2L164.7 367.8L164.3 367.5L159.5 367.6L154.7 367.6L149.9 367.6L145.1 367.7L140.6 365.1L140.3 365.0L135.5 365.0L130.7 365.0L125.8 365.0L121.0 365.1L116.4 362.5L116.2 362.4L111.4 362.4L106.6 362.4L101.8 362.4L97.0 362.4L92.2 362.5L87.4 362.5L86.6 362.5L87.4 362.6L92.2 363.2L97.0 363.9L101.8 364.7L103.6 365.1L106.6 365.9L111.4 366.8L115.6 367.8L116.2 367.9L121.0 369.1L125.8 370.3L126.3 370.5L130.7 371.8L135.0 373.1L135.5 373.3L140.3 375.0L142.7 375.8L145.1 376.6L149.9 378.3L150.3 378.5L154.7 380.2L157.1 381.1L159.5 382.1L163.8 383.8L164.3 384.0L169.1 386.3L169.5 386.4L173.9 388.5L175.1 389.1L178.7 391.1L180.1 391.8L183.5 393.3L185.5 394.4L188.3 396.0L190.3 397.1L193.1 399.0L194.5 399.8L197.9 401.6L199.1 402.4L202.7 404.8L203.1 405.1L207.1 407.8L207.5 408.0L211.1 410.4L212.3 411.4L214.7 413.1L217.1 414.8L218.5 415.8L221.9 418.1L222.3 418.4L225.3 421.1L226.7 422.1L229.1 423.8L231.5 426.0L232.0 426.4L234.9 429.1L236.3 430.4L238.1 431.8L240.5 434.4L241.1 434.9L244.1 437.1L245.9 439.1L246.5 439.8L248.9 442.4L250.7 444.4L251.5 445.1L254.7 447.7L255.5 449.1L256.3 450.4L259.5 453.1L260.3 454.4L261.1 455.7L263.9 458.4L265.1 459.7L265.9 461.1L267.5 463.7L268.7 466.4L269.9 467.7L271.1 469.1L273.5 471.7L274.7 473.1L275.9 474.4L277.1 477.1L277.1 479.7L277.1 482.4L279.5 483.7L281.9 485.1L279.5 486.4L277.1 487.7L274.7 489.1L269.9 489.1L267.5 487.7L265.1 486.4L260.3 486.4L255.5 486.4L250.7 485.7L245.9 485.7L243.5 485.1L241.1 484.4L236.3 484.4L231.5 483.1L226.7 482.8L224.3 482.4L221.9 481.9L217.1 481.7L212.3 481.1L207.5 480.7L202.7 480.2L200.3 479.7L197.9 479.4L193.1 479.3L188.3 478.7L183.5 478.1L178.7 478.1L173.9 477.4L171.5 477.1L169.1 476.8L164.3 476.7L159.5 476.3L154.7 476.1L149.9 475.7L145.1 475.2L140.3 475.2L135.5 474.7L130.7 474.6L128.2 474.4L125.8 474.1L121.0 474.1L116.2 473.6L111.4 473.6L106.6 473.3L101.8 473.1L97.0 473.1L92.2 472.8L87.4 472.8L82.6 472.5L77.8 472.4L73.0 472.4L68.2 472.4L63.4 472.4L58.6 472.4L53.8 472.4L49.0 472.4M529.3 626.3L529.3 626.3L529.1 626.3M49.0 359.9L49.0 359.8L49.0 359.8M248.7 626.3L248.7 623.6L248.7 621.0L248.3 618.3L247.9 615.6L247.9 613.0L247.1 610.3L246.3 607.6L245.9 606.3L245.5 605.0L244.7 602.3L243.9 599.7L243.1 597.0L242.3 594.3L241.1 592.3L240.7 591.7L239.7 589.0L238.3 586.3L236.7 583.7L236.3 583.0L234.9 581.0L233.0 578.3L231.5 576.3L231.0 575.7L229.1 573.0L227.2 570.3L226.7 569.9L224.3 567.7L221.9 565.4L221.4 565.0L218.9 562.3L217.1 561.0L215.7 559.7L212.8 557.0L212.3 556.6L209.3 554.3L207.5 553.0L205.7 551.7L202.7 550.0L200.9 549.0L197.9 546.8L197.1 546.4L193.1 544.1L192.3 543.7L188.3 542.0L186.5 541.0L183.5 539.4L181.1 538.4L178.7 537.4L174.7 535.7L173.9 535.4L169.1 533.8L166.7 533.0L164.3 532.0L159.5 530.6L158.7 530.4L154.7 529.0L150.7 527.7L149.9 527.4L145.1 526.4L140.3 525.3L139.1 525.0L135.5 524.2L130.7 523.2L127.0 522.4L125.8 522.1L121.0 521.3L116.2 520.5L111.4 519.9L110.2 519.7L106.6 519.0L101.8 518.6L97.0 518.1L92.2 517.7L87.4 517.3L85.0 517.0L82.6 516.8L77.8 516.4L73.0 515.9L68.2 515.9L63.4 515.7L58.6 515.5L53.8 515.5L49.0 515.5M499.4 535.7L500.5 536.4L500.5 535.7L500.5 535.7L499.4 535.7M495.5 533.0L495.7 533.2L495.7 533.0L495.8 530.4L495.7 530.3L491.5 530.4L495.5 533.0M487.2 527.7L490.9 530.0L490.9 527.7L491.0 525.0L491.1 522.4L490.9 522.2L486.3 519.7L486.4 517.0L486.1 516.9L481.5 514.4L481.6 511.7L481.3 511.5L476.8 509.0L476.9 506.4L476.5 506.1L472.1 503.7L472.2 501.0L471.7 500.8L467.4 498.4L467.4 495.7L466.9 495.4L462.6 493.0L462.7 490.4L462.1 490.0L457.9 487.7L457.3 487.4L453.1 485.1L453.2 482.4L452.5 482.0L448.4 479.7L447.6 479.3L443.6 477.1L443.6 474.4L442.8 474.0L438.8 471.7L438.0 471.3L434.0 469.1L434.1 466.4L433.2 465.9L429.3 463.7L428.4 463.3L424.5 461.1L423.6 460.6L419.7 458.4L418.8 457.9L414.9 455.7L414.0 455.3L410.1 453.1L410.2 450.4L409.2 449.9L405.4 447.7L404.4 447.2L400.6 445.1L399.6 444.6L395.7 442.4L394.8 441.9L390.9 439.8L390.0 439.2L386.1 437.1L385.2 436.6L381.3 434.4L380.4 433.9L376.5 431.8L375.6 431.2L371.7 429.1L370.8 428.6L366.9 426.4L366.0 425.9L361.2 425.9L357.3 423.8L356.4 423.3L352.4 421.1L351.6 420.6L347.6 418.4L346.8 418.0L342.8 415.8L342.0 415.3L338.0 413.1L337.2 412.6L332.4 412.7L328.4 410.4L327.6 410.0L323.6 407.8L322.8 407.3L318.0 407.4L313.9 405.1L313.2 404.7L309.1 402.4L308.4 402.0L303.6 402.1L299.4 399.8L298.8 399.4L294.6 397.1L294.0 396.8L289.1 396.8L284.9 394.4L284.3 394.1L279.5 394.2L275.2 391.8L274.7 391.5L269.9 391.5L265.6 389.1L265.1 388.9L260.3 388.9L255.9 386.4L255.5 386.3L250.7 386.3L246.2 383.8L245.9 383.6L241.1 383.7L236.5 381.1L236.3 381.0L231.5 381.0L226.7 381.1L222.6 381.1L226.7 383.2L228.0 383.8L231.5 385.5L233.4 386.4L236.3 387.9L238.5 389.1L241.1 390.4L243.8 391.8L245.9 393.0L248.6 394.4L250.7 395.6L253.7 397.1L255.5 398.1L258.5 399.8L260.3 400.8L263.3 402.4L265.1 403.5L268.1 405.1L269.9 406.1L272.6 407.8L274.7 409.1L277.1 410.4L279.5 411.8L281.9 413.1L284.3 414.6L286.2 415.8L289.1 417.4L291.0 418.4L294.0 420.3L295.3 421.1L298.8 423.3L299.6 423.8L303.6 426.0L304.4 426.4L308.4 428.9L308.6 429.1L313.2 431.6L313.4 431.8L317.7 434.4L318.0 434.6L322.5 437.1L322.8 437.3L326.8 439.8L327.6 440.2L331.5 442.4L332.4 442.9L336.3 445.1L337.2 445.6L340.6 447.7L342.0 448.6L345.3 450.4L346.8 451.2L350.1 453.1L351.6 453.9L354.9 455.7L356.4 456.6L359.7 458.4L361.2 459.2L364.5 461.1L366.0 461.9L369.3 463.7L370.8 464.5L374.7 466.4L375.6 466.9L379.5 469.1L380.4 469.6L384.3 471.7L385.2 472.2L389.7 474.4L390.0 474.6L394.5 477.1L394.8 477.2L399.6 479.6L399.9 479.7L404.4 482.2L404.7 482.4L409.2 484.6L410.0 485.1L414.0 487.3L414.9 487.7L418.8 489.6L420.3 490.4L423.6 492.0L425.5 493.0L428.4 494.7L430.5 495.7L433.2 497.0L435.6 498.4L438.0 499.7L440.4 501.0L442.8 502.2L445.8 503.7L447.6 504.7L450.6 506.4L452.5 507.4L455.4 509.0L457.3 510.1L460.2 511.7L462.1 512.7L464.7 514.4L466.9 515.6L469.5 517.0L471.7 518.2L474.1 519.7L476.5 521.2L478.6 522.4L481.3 524.0L483.0 525.0L486.1 527.0L487.2 527.7M216.8 378.5L217.1 378.6L221.9 380.8L222.0 378.5L221.9 378.4L217.1 378.5L216.8 378.5M211.0 375.8L212.3 376.4L212.3 375.8L212.3 375.8L211.0 375.8M158.9 626.3L158.9 623.6L158.9 621.0L158.0 618.3L157.7 615.6L156.5 613.0L155.3 610.3L154.7 609.0L154.1 607.6L152.9 605.0L150.5 602.3L149.9 601.0L149.1 599.6L145.9 597.0L145.1 596.3L143.3 594.3L140.9 591.7L140.3 591.2L137.3 589.0L135.5 587.7L133.1 586.3L130.7 585.0L128.2 583.7L125.8 582.3L123.4 581.0L121.0 579.7L118.6 578.3L116.2 577.3L112.2 575.7L111.4 575.3L106.6 574.0L103.0 573.0L101.8 572.6L97.0 570.8L94.6 570.3L92.2 570.0L87.4 568.7L82.6 568.0L80.2 567.7L77.8 567.3L73.0 566.7L68.2 566.0L63.4 565.8L58.6 565.3L53.8 565.3L49.0 565.3M450.8 482.4L452.5 483.4L452.5 482.4L452.5 482.4L450.8 482.4M446.0 479.7L447.6 480.6L447.7 479.7L447.6 479.7L446.0 479.7M441.2 477.1L442.8 478.0L442.9 477.1L443.0 474.4L442.8 474.3L438.2 471.7L438.0 471.7L433.4 469.1L433.4 466.4L433.2 466.3L428.6 463.7L428.4 463.6L423.8 461.1L423.6 461.0L419.0 458.4L418.8 458.3L414.2 455.7L414.0 455.6L409.4 453.1L409.5 450.4L409.2 450.3L404.7 447.7L404.4 447.6L399.9 445.1L399.6 444.9L395.1 442.4L394.8 442.3L390.3 439.8L390.0 439.6L385.5 437.1L385.2 436.9L380.7 434.4L380.4 434.3L375.9 431.8L375.6 431.6L371.1 429.1L370.8 428.9L366.3 426.4L366.0 426.3L361.2 426.3L356.6 423.8L356.4 423.6L351.8 421.1L351.6 421.0L347.0 418.4L346.8 418.3L342.2 415.8L342.0 415.7L337.4 413.1L337.2 413.0L332.4 413.0L327.7 410.4L327.6 410.4L322.9 407.8L322.8 407.7L318.0 407.8L316.3 407.8L318.0 408.7L321.1 410.4L322.8 411.4L325.9 413.1L327.6 414.0L330.7 415.8L332.4 416.7L335.5 418.4L337.2 419.4L340.2 421.1L342.0 422.1L345.0 423.8L346.8 424.8L349.8 426.4L351.6 427.4L354.6 429.1L356.4 430.1L359.4 431.8L361.2 432.8L364.2 434.4L366.0 435.4L369.0 437.1L370.8 438.1L373.8 439.8L375.6 440.7L378.6 442.4L380.4 443.4L383.4 445.1L385.2 446.1L388.2 447.7L390.0 448.7L393.0 450.4L394.8 451.4L397.8 453.1L399.6 454.1L402.6 455.7L404.4 456.7L407.4 458.4L409.2 459.4L412.2 461.1L414.0 462.1L417.0 463.7L418.8 464.7L421.8 466.4L423.6 467.3L426.8 469.1L428.4 470.0L431.6 471.7L433.2 472.7L436.4 474.4L438.0 475.3L441.2 477.1M311.5 405.1L313.2 406.0L313.2 405.1L313.2 405.1L311.5 405.1M306.6 402.4L308.4 403.4L308.4 402.4L308.4 402.4L306.6 402.4"/>
</g>
<path d="M49.0 11.2H529.3V277.7" fill="none" stroke="#000" stroke-width="1.2"/>
<path d="M49.0 10.4V277.7H529.8" fill="none" stroke="#000" stroke-width="1.6"/>
<path d="M49.0 277.7v8.2M49.0 277.7h-6.0M169.1 277.7v4.6M49.0 211.1h-3.6M289.1 277.7v8.2M49.0 144.4h-6.0M409.2 277.7v4.6M49.0 77.8h-3.6M529.3 277.7v8.2M49.0 11.2h-6.0" fill="none" stroke="#000" stroke-width="1.8"/>
<path d="M49.0 359.8H529.3V626.3" fill="none" stroke="#000" stroke-width="1.2"/>
<path d="M49.0 359.0V626.3H529.8" fill="none" stroke="#000" stroke-width="1.6"/>
<path d="M49.0 626.3v8.2M49.0 626.3h-6.0M169.1 626.3v4.6M49.0 559.7h-3.6M289.1 626.3v8.2M49.0 493.0h-6.0M409.2 626.3v4.6M49.0 426.4h-3.6M529.3 626.3v8.2M49.0 359.8h-6.0" fill="none" stroke="#000" stroke-width="1.8"/>
<rect x="573.2" y="95.60" width="58.7" height="34.15" fill="#800000"/>
<rect x="573.2" y="130.45" width="58.7" height="34.15" fill="#9F2000"/>
<rect x="573.2" y="165.30" width="58.7" height="34.15" fill="#BF4000"/>
<rect x="573.2" y="200.15" width="58.7" height="34.15" fill="#DF6000"/>
<rect x="573.2" y="235.00" width="58.7" height="34.15" fill="#FF8000"/>
<rect x="573.2" y="269.85" width="58.7" height="34.15" fill="#FF9933"/>
<rect x="573.2" y="304.70" width="58.7" height="34.15" fill="#FFB366"/>
<rect x="573.2" y="339.55" width="58.7" height="34.15" fill="#FFCC99"/>
<rect x="573.2" y="374.40" width="58.7" height="34.85" fill="#FFE6CC"/>
</svg>
<div id="tx">
<div class="t tk" style="left:29.25px;top:284.80px">0.0</div>
<div class="t tk" style="left:-0.05px;top:261.68px">0.0</div>
<div class="t tk" style="left:269.27px;top:284.80px">0.5</div>
<div class="t tk" style="left:-0.30px;top:128.42px">0.5</div>
<div class="t tk" style="left:509.05px;top:285.05px"><span style="display:inline-block;width:.556em;height:0;position:relative"><svg style="position:absolute;left:0;top:auto;bottom:-.0195em;width:.556em;height:.7617em;overflow:visible" viewBox="0 -1520 1139 1560"><path transform="scale(1,-0.957)" d="M806 0H525V1059Q371 915 162 846V1101Q272 1137 401 1237.5Q530 1338 578 1472H806Z" stroke="#000" stroke-width="56"/></svg></span>.0</div>
<div class="t tk" style="left:-0.05px;top:-4.70px"><span style="display:inline-block;width:.556em;height:0;position:relative"><svg style="position:absolute;left:0;top:auto;bottom:-.0195em;width:.556em;height:.7617em;overflow:visible" viewBox="0 -1520 1139 1560"><path transform="scale(1,-0.957)" d="M806 0H525V1059Q371 915 162 846V1101Q272 1137 401 1237.5Q530 1338 578 1472H806Z" stroke="#000" stroke-width="56"/></svg></span>.0</div>
<div class="t a" style="left:390.30px;top:306.20px">a</div>
<div class="t N" style="left:400.10px;top:51.15px">N</div>
<div class="t sG" style="left:424.80px;top:80.30px">G</div>
<div class="t sA" style="left:439.90px;top:36.00px">A</div>
<div class="t E" style="left:463.90px;top:51.15px">E</div>
<div class="t s4" style="left:485.70px;top:80.05px">4</div>
<div class="t sA" style="left:497.20px;top:36.00px">A</div>
<div class="t tk" style="left:29.25px;top:633.40px">0.0</div>
<div class="t tk" style="left:-0.05px;top:610.28px">0.0</div>
<div class="t tk" style="left:269.27px;top:633.40px">0.5</div>
<div class="t tk" style="left:-0.30px;top:477.02px">0.5</div>
<div class="t tk" style="left:509.05px;top:633.65px"><span style="display:inline-block;width:.556em;height:0;position:relative"><svg style="position:absolute;left:0;top:auto;bottom:-.0195em;width:.556em;height:.7617em;overflow:visible" viewBox="0 -1520 1139 1560"><path transform="scale(1,-0.957)" d="M806 0H525V1059Q371 915 162 846V1101Q272 1137 401 1237.5Q530 1338 578 1472H806Z" stroke="#000" stroke-width="56"/></svg></span>.0</div>
<div class="t tk" style="left:-0.05px;top:343.90px"><span style="display:inline-block;width:.556em;height:0;position:relative"><svg style="position:absolute;left:0;top:auto;bottom:-.0195em;width:.556em;height:.7617em;overflow:visible" viewBox="0 -1520 1139 1560"><path transform="scale(1,-0.957)" d="M806 0H525V1059Q371 915 162 846V1101Q272 1137 401 1237.5Q530 1338 578 1472H806Z" stroke="#000" stroke-width="56"/></svg></span>.0</div>
<div class="t a" style="left:386.30px;top:654.30px">a</div>
<div class="t N" style="left:402.20px;top:394.95px">N</div>
<div class="t sG" style="left:426.90px;top:424.10px">G</div>
<div class="t sA" style="left:442.00px;top:379.80px">A</div>
<div class="t E" style="left:466.00px;top:394.95px">E</div>
<div class="t s2" style="left:486.95px;top:424.10px">2</div>
<div class="t sA" style="left:499.30px;top:379.80px">A</div>
<div class="t" style="left:0;top:0;font-size:37.5px;-webkit-text-stroke:1.9px #000;transform:translate(-2.85px,91.30px) rotate(-90deg) scale(1.32,0.864)">b</div>
<div class="t" style="left:0;top:0;font-size:37.5px;-webkit-text-stroke:1.9px #000;transform:translate(-2.85px,441.60px) rotate(-90deg) scale(1.32,0.864)">b</div>
<div class="t lg" style="left:637.70px;top:102.80px">0.9</div>
<div class="t ld" style="left:680.30px;top:101.90px">--</div>
<div class="t lg" style="left:705.00px;top:102.30px"><span style="display:inline-block;width:.556em;height:0;position:relative"><svg style="position:absolute;left:0;top:auto;bottom:-.0195em;width:.556em;height:.7617em;overflow:visible" viewBox="0 -1520 1139 1560"><path transform="scale(1,-0.957)" d="M806 0H525V1059Q371 915 162 846V1101Q272 1137 401 1237.5Q530 1338 578 1472H806Z" stroke="#000" stroke-width="50"/></svg></span></div>
<div class="t lg" style="left:637.70px;top:137.68px">0.8</div>
<div class="t ld" style="left:680.30px;top:136.78px">--</div>
<div class="t lg" style="left:705.50px;top:137.68px">0.9</div>
<div class="t lg" style="left:637.70px;top:172.55px">0.7</div>
<div class="t ld" style="left:680.30px;top:171.65px">--</div>
<div class="t lg" style="left:705.50px;top:172.55px">0.8</div>
<div class="t lg" style="left:637.70px;top:207.42px">0.6</div>
<div class="t ld" style="left:680.30px;top:206.52px">--</div>
<div class="t lg" style="left:705.50px;top:207.42px">0.7</div>
<div class="t lg" style="left:637.70px;top:242.30px">0.5</div>
<div class="t ld" style="left:680.30px;top:241.40px">--</div>
<div class="t lg" style="left:705.50px;top:242.30px">0.6</div>
<div class="t lg" style="left:637.70px;top:277.18px">0.4</div>
<div class="t ld" style="left:680.30px;top:276.28px">--</div>
<div class="t lg" style="left:705.50px;top:277.18px">0.5</div>
<div class="t lg" style="left:637.70px;top:312.05px">0.3</div>
<div class="t ld" style="left:680.30px;top:311.15px">--</div>
<div class="t lg" style="left:705.50px;top:312.05px">0.4</div>
<div class="t lg" style="left:637.70px;top:346.92px">0.2</div>
<div class="t ld" style="left:680.30px;top:346.02px">--</div>
<div class="t lg" style="left:705.50px;top:346.92px">0.3</div>
<div class="t lg" style="left:637.70px;top:381.80px">0.<span style="display:inline-block;width:.556em;height:0;position:relative"><svg style="position:absolute;left:0;top:auto;bottom:-.0195em;width:.556em;height:.7617em;overflow:visible" viewBox="0 -1520 1139 1560"><path transform="scale(1,-0.957)" d="M806 0H525V1059Q371 915 162 846V1101Q272 1137 401 1237.5Q530 1338 578 1472H806Z" stroke="#000" stroke-width="50"/></svg></span></div>
<div class="t ld" style="left:680.30px;top:380.90px">--</div>
<div class="t lg" style="left:705.50px;top:381.80px">0.2</div>
<div class="t lg" style="left:637.70px;top:416.68px">0</div>
<div class="t ld" style="left:662.30px;top:415.78px">--</div>
<div class="t lg" style="left:687.10px;top:416.68px">0.<span style="display:inline-block;width:.556em;height:0;position:relative"><svg style="position:absolute;left:0;top:auto;bottom:-.0195em;width:.556em;height:.7617em;overflow:visible" viewBox="0 -1520 1139 1560"><path transform="scale(1,-0.957)" d="M806 0H525V1059Q371 915 162 846V1101Q272 1137 401 1237.5Q530 1338 578 1472H806Z" stroke="#000" stroke-width="50"/></svg></span></div>
</div>
</body></html>
